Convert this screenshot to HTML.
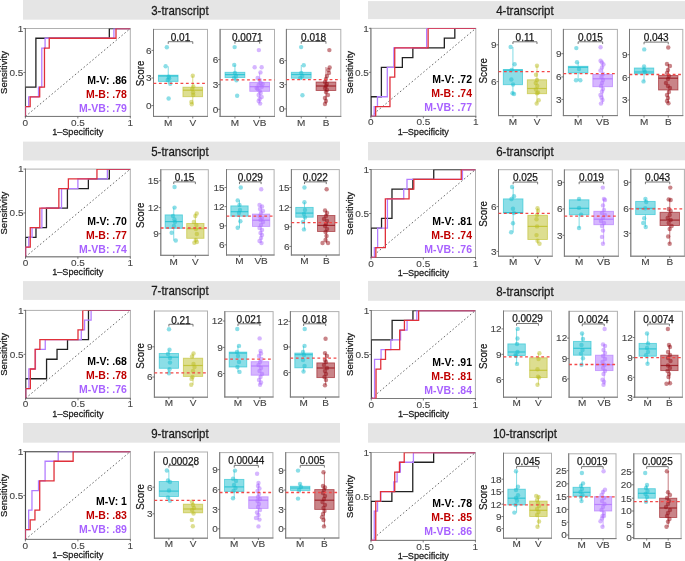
<!DOCTYPE html>
<html><head><meta charset="utf-8"><style>
html,body{margin:0;padding:0;background:#fff;}
svg{display:block;will-change:transform;}
text{font-family:"Liberation Sans", sans-serif;}
</style></head><body>
<svg width="685" height="561" viewBox="0 0 685 561">
<rect x="23.00" y="0.00" width="317.00" height="19.70" fill="#e5e5e5"/>
<text transform="translate(179.90 10.45) scale(0.95 1.0)" font-size="12.1" fill="#1a1a1a" text-anchor="middle" font-weight="normal" dominant-baseline="central" stroke="#1a1a1a" stroke-width="0.25">3-transcript</text>
<rect x="25.40" y="28.50" width="104.90" height="87.95" fill="none" stroke="#b0b0b0" stroke-width="1"/>
<line x1="25.40" y1="28.00" x2="25.40" y2="116.95" stroke="#7a7a7a" stroke-width="1"/>
<line x1="24.90" y1="116.45" x2="130.80" y2="116.45" stroke="#7a7a7a" stroke-width="1"/>
<line x1="25.40" y1="116.45" x2="130.30" y2="28.50" stroke="#444" stroke-width="0.8" stroke-dasharray="1.6,2.2"/>
<clipPath id="c1"><rect x="25.40" y="28.50" width="104.90" height="87.95"/></clipPath><g clip-path="url(#c1)">
<polyline points="25.40,116.45 25.40,87.13 35.89,87.13 35.89,38.27 109.32,38.27 109.32,28.50 130.30,28.50" fill="none" stroke="#222222" stroke-width="1.3"/>
<polyline points="25.40,116.45 25.40,106.68 28.68,106.68 28.68,96.91 38.51,96.91 38.51,87.13 41.79,87.13 41.79,48.04 45.07,48.04 45.07,38.27 113.91,38.27 113.91,28.50 130.30,28.50" fill="none" stroke="#b37dff" stroke-width="1.3"/>
<polyline points="25.40,116.45 25.40,106.68 30.17,106.68 30.17,96.91 39.70,96.91 39.70,87.13 44.47,87.13 44.47,48.04 49.24,48.04 49.24,38.27 116.00,38.27 116.00,28.50 130.30,28.50" fill="none" stroke="#e0303a" stroke-width="1.3"/>
</g>
<line x1="23.40" y1="28.50" x2="25.40" y2="28.50" stroke="#5a5a5a" stroke-width="0.8"/>
<text transform="translate(23.40 28.50) scale(1.0 0.92)" font-size="10.0" fill="#454545" text-anchor="end" font-weight="normal" dominant-baseline="central" stroke="#454545" stroke-width="0.12">1</text>
<line x1="23.40" y1="72.47" x2="25.40" y2="72.47" stroke="#5a5a5a" stroke-width="0.8"/>
<text transform="translate(23.40 72.47) scale(1.0 0.92)" font-size="10.0" fill="#454545" text-anchor="end" font-weight="normal" dominant-baseline="central" stroke="#454545" stroke-width="0.12">0.5</text>
<line x1="25.40" y1="116.45" x2="25.40" y2="118.45" stroke="#5a5a5a" stroke-width="0.8"/>
<text transform="translate(25.40 122.25) scale(1.0 0.92)" font-size="10.0" fill="#454545" text-anchor="middle" font-weight="normal" dominant-baseline="central" stroke="#454545" stroke-width="0.12">0</text>
<line x1="77.85" y1="116.45" x2="77.85" y2="118.45" stroke="#5a5a5a" stroke-width="0.8"/>
<text transform="translate(77.85 122.25) scale(1.0 0.92)" font-size="10.0" fill="#454545" text-anchor="middle" font-weight="normal" dominant-baseline="central" stroke="#454545" stroke-width="0.12">0.5</text>
<line x1="130.30" y1="116.45" x2="130.30" y2="118.45" stroke="#5a5a5a" stroke-width="0.8"/>
<text transform="translate(130.30 122.25) scale(1.0 0.92)" font-size="10.0" fill="#454545" text-anchor="middle" font-weight="normal" dominant-baseline="central" stroke="#454545" stroke-width="0.12">1</text>
<text transform="translate(3.50 72.50) rotate(-90)" font-size="9.5" fill="#1a1a1a" text-anchor="middle" font-weight="normal" dominant-baseline="central" stroke="#1a1a1a" stroke-width="0.25">Sensitivity</text>
<text transform="translate(77.70 131.75) scale(0.96 1.0)" font-size="9.5" fill="#1a1a1a" text-anchor="middle" font-weight="normal" dominant-baseline="central" stroke="#1a1a1a" stroke-width="0.25">1–Specificity</text>
<text transform="translate(126.90 80.80) scale(1.03 1.0)" font-size="10.2" fill="#000" text-anchor="end" font-weight="bold" dominant-baseline="central">M-V: .86</text>
<text transform="translate(126.90 94.80) scale(1.03 1.0)" font-size="10.2" fill="#c00000" text-anchor="end" font-weight="bold" dominant-baseline="central">M-B: .78</text>
<text transform="translate(126.90 108.80) scale(1.03 1.0)" font-size="10.2" fill="#a862ff" text-anchor="end" font-weight="bold" dominant-baseline="central">M-VB: .79</text>
<rect x="153.50" y="29.40" width="54.00" height="87.00" fill="none" stroke="#b0b0b0" stroke-width="1"/>
<line x1="153.50" y1="28.90" x2="153.50" y2="116.90" stroke="#7a7a7a" stroke-width="1"/>
<line x1="153.00" y1="116.40" x2="208.00" y2="116.40" stroke="#7a7a7a" stroke-width="1"/>
<line x1="151.50" y1="50.40" x2="153.50" y2="50.40" stroke="#5a5a5a" stroke-width="0.8"/>
<text transform="translate(151.60 50.40) scale(1.0 0.92)" font-size="10.0" fill="#454545" text-anchor="end" font-weight="normal" dominant-baseline="central" stroke="#454545" stroke-width="0.12">6</text>
<line x1="151.50" y1="78.00" x2="153.50" y2="78.00" stroke="#5a5a5a" stroke-width="0.8"/>
<text transform="translate(151.60 78.00) scale(1.0 0.92)" font-size="10.0" fill="#454545" text-anchor="end" font-weight="normal" dominant-baseline="central" stroke="#454545" stroke-width="0.12">3</text>
<line x1="151.50" y1="105.60" x2="153.50" y2="105.60" stroke="#5a5a5a" stroke-width="0.8"/>
<text transform="translate(151.60 105.60) scale(1.0 0.92)" font-size="10.0" fill="#454545" text-anchor="end" font-weight="normal" dominant-baseline="central" stroke="#454545" stroke-width="0.12">0</text>
<line x1="168.23" y1="116.40" x2="168.23" y2="118.40" stroke="#5a5a5a" stroke-width="0.8"/>
<text transform="translate(168.23 122.30) scale(1.0 0.92)" font-size="10.0" fill="#454545" text-anchor="middle" font-weight="normal" dominant-baseline="central" stroke="#454545" stroke-width="0.12">M</text>
<line x1="192.77" y1="116.40" x2="192.77" y2="118.40" stroke="#5a5a5a" stroke-width="0.8"/>
<text transform="translate(192.77 122.30) scale(1.0 0.92)" font-size="10.0" fill="#454545" text-anchor="middle" font-weight="normal" dominant-baseline="central" stroke="#454545" stroke-width="0.12">V</text>
<line x1="168.23" y1="66.30" x2="168.23" y2="75.20" stroke="#17becf" stroke-width="0.9" stroke-opacity="0.6"/>
<line x1="168.23" y1="81.40" x2="168.23" y2="83.70" stroke="#17becf" stroke-width="0.9" stroke-opacity="0.6"/>
<rect x="158.41" y="75.20" width="19.64" height="6.20" fill="#17becf" fill-opacity="0.5" stroke="#17becf" stroke-opacity="0.6" stroke-width="0.9"/>
<line x1="158.41" y1="76.00" x2="178.05" y2="76.00" stroke="#17becf" stroke-width="1.2" stroke-opacity="0.75"/>
<circle cx="166.83" cy="47.30" r="2.2" fill="#17becf" fill-opacity="0.5"/>
<circle cx="165.63" cy="66.30" r="2.2" fill="#17becf" fill-opacity="0.5"/>
<circle cx="168.73" cy="76.80" r="2.2" fill="#17becf" fill-opacity="0.5"/>
<circle cx="170.23" cy="83.70" r="2.2" fill="#17becf" fill-opacity="0.5"/>
<circle cx="168.63" cy="98.50" r="2.2" fill="#17becf" fill-opacity="0.5"/>
<circle cx="169.23" cy="78.50" r="2.2" fill="#17becf" fill-opacity="0.5"/>
<circle cx="167.73" cy="80.00" r="2.2" fill="#17becf" fill-opacity="0.5"/>
<line x1="192.77" y1="75.70" x2="192.77" y2="87.20" stroke="#bcbd22" stroke-width="0.9" stroke-opacity="0.6"/>
<line x1="192.77" y1="96.70" x2="192.77" y2="104.40" stroke="#bcbd22" stroke-width="0.9" stroke-opacity="0.6"/>
<rect x="182.95" y="87.20" width="19.64" height="9.50" fill="#bcbd22" fill-opacity="0.5" stroke="#bcbd22" stroke-opacity="0.6" stroke-width="0.9"/>
<line x1="182.95" y1="90.20" x2="202.59" y2="90.20" stroke="#bcbd22" stroke-width="1.2" stroke-opacity="0.75"/>
<circle cx="192.77" cy="75.70" r="2.2" fill="#bcbd22" fill-opacity="0.5"/>
<circle cx="193.27" cy="86.50" r="2.2" fill="#bcbd22" fill-opacity="0.5"/>
<circle cx="192.27" cy="89.00" r="2.2" fill="#bcbd22" fill-opacity="0.5"/>
<circle cx="193.07" cy="92.50" r="2.2" fill="#bcbd22" fill-opacity="0.5"/>
<circle cx="191.37" cy="102.00" r="2.2" fill="#bcbd22" fill-opacity="0.5"/>
<circle cx="191.77" cy="104.30" r="2.2" fill="#bcbd22" fill-opacity="0.5"/>
<circle cx="193.27" cy="95.00" r="2.2" fill="#bcbd22" fill-opacity="0.5"/>
<line x1="153.50" y1="83.40" x2="207.50" y2="83.40" stroke="#f44848" stroke-width="1.3" stroke-dasharray="2.8,2.6"/>
<polyline points="168.23,43.90 168.23,41.70 192.77,41.70 192.77,43.90" fill="none" stroke="#666" stroke-width="0.9"/>
<text transform="translate(180.50 37.40)" font-size="10.0" fill="#1a1a1a" text-anchor="middle" font-weight="normal" dominant-baseline="central" stroke="#1a1a1a" stroke-width="0.25">0.01</text>
<text transform="translate(140.20 73.40) rotate(-90) scale(0.95 1.0)" font-size="10.3" fill="#1a1a1a" text-anchor="middle" font-weight="normal" dominant-baseline="central" stroke="#1a1a1a" stroke-width="0.25">Score</text>
<rect x="220.10" y="29.40" width="54.40" height="87.00" fill="none" stroke="#b0b0b0" stroke-width="1"/>
<line x1="220.10" y1="28.90" x2="220.10" y2="116.90" stroke="#7a7a7a" stroke-width="1"/>
<line x1="219.60" y1="116.40" x2="275.00" y2="116.40" stroke="#7a7a7a" stroke-width="1"/>
<line x1="218.10" y1="59.60" x2="220.10" y2="59.60" stroke="#5a5a5a" stroke-width="0.8"/>
<text transform="translate(218.20 59.60) scale(1.0 0.92)" font-size="10.0" fill="#454545" text-anchor="end" font-weight="normal" dominant-baseline="central" stroke="#454545" stroke-width="0.12">6</text>
<line x1="218.10" y1="84.60" x2="220.10" y2="84.60" stroke="#5a5a5a" stroke-width="0.8"/>
<text transform="translate(218.20 84.60) scale(1.0 0.92)" font-size="10.0" fill="#454545" text-anchor="end" font-weight="normal" dominant-baseline="central" stroke="#454545" stroke-width="0.12">3</text>
<line x1="218.10" y1="109.30" x2="220.10" y2="109.30" stroke="#5a5a5a" stroke-width="0.8"/>
<text transform="translate(218.20 109.30) scale(1.0 0.92)" font-size="10.0" fill="#454545" text-anchor="end" font-weight="normal" dominant-baseline="central" stroke="#454545" stroke-width="0.12">0</text>
<line x1="234.94" y1="116.40" x2="234.94" y2="118.40" stroke="#5a5a5a" stroke-width="0.8"/>
<text transform="translate(234.94 122.30) scale(1.0 0.92)" font-size="10.0" fill="#454545" text-anchor="middle" font-weight="normal" dominant-baseline="central" stroke="#454545" stroke-width="0.12">M</text>
<line x1="259.66" y1="116.40" x2="259.66" y2="118.40" stroke="#5a5a5a" stroke-width="0.8"/>
<text transform="translate(259.66 122.30) scale(1.0 0.92)" font-size="10.0" fill="#454545" text-anchor="middle" font-weight="normal" dominant-baseline="central" stroke="#454545" stroke-width="0.12">VB</text>
<line x1="234.94" y1="64.90" x2="234.94" y2="72.30" stroke="#17becf" stroke-width="0.9" stroke-opacity="0.6"/>
<line x1="234.94" y1="77.60" x2="234.94" y2="80.30" stroke="#17becf" stroke-width="0.9" stroke-opacity="0.6"/>
<rect x="225.05" y="72.30" width="19.78" height="5.30" fill="#17becf" fill-opacity="0.5" stroke="#17becf" stroke-opacity="0.6" stroke-width="0.9"/>
<line x1="225.05" y1="74.60" x2="244.83" y2="74.60" stroke="#17becf" stroke-width="1.2" stroke-opacity="0.75"/>
<circle cx="234.64" cy="47.10" r="2.2" fill="#17becf" fill-opacity="0.5"/>
<circle cx="234.24" cy="64.90" r="2.2" fill="#17becf" fill-opacity="0.5"/>
<circle cx="237.14" cy="95.80" r="2.2" fill="#17becf" fill-opacity="0.5"/>
<circle cx="234.94" cy="73.00" r="2.2" fill="#17becf" fill-opacity="0.5"/>
<circle cx="235.94" cy="76.00" r="2.2" fill="#17becf" fill-opacity="0.5"/>
<circle cx="233.94" cy="78.00" r="2.2" fill="#17becf" fill-opacity="0.5"/>
<circle cx="236.44" cy="80.30" r="2.2" fill="#17becf" fill-opacity="0.5"/>
<line x1="259.66" y1="72.50" x2="259.66" y2="82.40" stroke="#ad6eff" stroke-width="0.9" stroke-opacity="0.6"/>
<line x1="259.66" y1="91.30" x2="259.66" y2="103.60" stroke="#ad6eff" stroke-width="0.9" stroke-opacity="0.6"/>
<rect x="249.77" y="82.40" width="19.78" height="8.90" fill="#ad6eff" fill-opacity="0.5" stroke="#ad6eff" stroke-opacity="0.6" stroke-width="0.9"/>
<line x1="249.77" y1="86.70" x2="269.55" y2="86.70" stroke="#ad6eff" stroke-width="1.2" stroke-opacity="0.75"/>
<circle cx="258.86" cy="50.10" r="2.2" fill="#ad6eff" fill-opacity="0.5"/>
<circle cx="254.66" cy="67.30" r="2.2" fill="#ad6eff" fill-opacity="0.5"/>
<circle cx="261.66" cy="67.30" r="2.2" fill="#ad6eff" fill-opacity="0.5"/>
<circle cx="260.46" cy="72.40" r="2.2" fill="#ad6eff" fill-opacity="0.5"/>
<circle cx="257.66" cy="78.00" r="2.2" fill="#ad6eff" fill-opacity="0.5"/>
<circle cx="259.66" cy="80.00" r="2.2" fill="#ad6eff" fill-opacity="0.5"/>
<circle cx="260.66" cy="83.00" r="2.2" fill="#ad6eff" fill-opacity="0.5"/>
<circle cx="258.66" cy="85.00" r="2.2" fill="#ad6eff" fill-opacity="0.5"/>
<circle cx="261.66" cy="87.00" r="2.2" fill="#ad6eff" fill-opacity="0.5"/>
<circle cx="257.66" cy="89.00" r="2.2" fill="#ad6eff" fill-opacity="0.5"/>
<circle cx="259.66" cy="91.00" r="2.2" fill="#ad6eff" fill-opacity="0.5"/>
<circle cx="260.66" cy="93.00" r="2.2" fill="#ad6eff" fill-opacity="0.5"/>
<circle cx="258.66" cy="95.00" r="2.2" fill="#ad6eff" fill-opacity="0.5"/>
<circle cx="261.66" cy="97.00" r="2.2" fill="#ad6eff" fill-opacity="0.5"/>
<circle cx="259.66" cy="99.00" r="2.2" fill="#ad6eff" fill-opacity="0.5"/>
<circle cx="258.66" cy="101.00" r="2.2" fill="#ad6eff" fill-opacity="0.5"/>
<circle cx="260.16" cy="103.60" r="2.2" fill="#ad6eff" fill-opacity="0.5"/>
<circle cx="262.66" cy="84.00" r="2.2" fill="#ad6eff" fill-opacity="0.5"/>
<circle cx="256.66" cy="88.00" r="2.2" fill="#ad6eff" fill-opacity="0.5"/>
<line x1="220.10" y1="79.90" x2="274.50" y2="79.90" stroke="#f44848" stroke-width="1.3" stroke-dasharray="2.8,2.6"/>
<polyline points="234.94,43.70 234.94,41.50 259.66,41.50 259.66,43.70" fill="none" stroke="#666" stroke-width="0.9"/>
<text transform="translate(247.30 37.10)" font-size="10.0" fill="#1a1a1a" text-anchor="middle" font-weight="normal" dominant-baseline="central" stroke="#1a1a1a" stroke-width="0.25">0.0071</text>
<rect x="286.40" y="29.40" width="54.40" height="87.00" fill="none" stroke="#b0b0b0" stroke-width="1"/>
<line x1="286.40" y1="28.90" x2="286.40" y2="116.90" stroke="#7a7a7a" stroke-width="1"/>
<line x1="285.90" y1="116.40" x2="341.30" y2="116.40" stroke="#7a7a7a" stroke-width="1"/>
<line x1="284.40" y1="60.60" x2="286.40" y2="60.60" stroke="#5a5a5a" stroke-width="0.8"/>
<text transform="translate(284.50 60.60) scale(1.0 0.92)" font-size="10.0" fill="#454545" text-anchor="end" font-weight="normal" dominant-baseline="central" stroke="#454545" stroke-width="0.12">6</text>
<line x1="284.40" y1="84.60" x2="286.40" y2="84.60" stroke="#5a5a5a" stroke-width="0.8"/>
<text transform="translate(284.50 84.60) scale(1.0 0.92)" font-size="10.0" fill="#454545" text-anchor="end" font-weight="normal" dominant-baseline="central" stroke="#454545" stroke-width="0.12">3</text>
<line x1="284.40" y1="108.90" x2="286.40" y2="108.90" stroke="#5a5a5a" stroke-width="0.8"/>
<text transform="translate(284.50 108.90) scale(1.0 0.92)" font-size="10.0" fill="#454545" text-anchor="end" font-weight="normal" dominant-baseline="central" stroke="#454545" stroke-width="0.12">0</text>
<line x1="301.24" y1="116.40" x2="301.24" y2="118.40" stroke="#5a5a5a" stroke-width="0.8"/>
<text transform="translate(301.24 122.30) scale(1.0 0.92)" font-size="10.0" fill="#454545" text-anchor="middle" font-weight="normal" dominant-baseline="central" stroke="#454545" stroke-width="0.12">M</text>
<line x1="325.96" y1="116.40" x2="325.96" y2="118.40" stroke="#5a5a5a" stroke-width="0.8"/>
<text transform="translate(325.96 122.30) scale(1.0 0.92)" font-size="10.0" fill="#454545" text-anchor="middle" font-weight="normal" dominant-baseline="central" stroke="#454545" stroke-width="0.12">B</text>
<line x1="301.24" y1="65.10" x2="301.24" y2="72.30" stroke="#17becf" stroke-width="0.9" stroke-opacity="0.6"/>
<line x1="301.24" y1="78.20" x2="301.24" y2="80.00" stroke="#17becf" stroke-width="0.9" stroke-opacity="0.6"/>
<rect x="291.35" y="72.30" width="19.78" height="5.90" fill="#17becf" fill-opacity="0.5" stroke="#17becf" stroke-opacity="0.6" stroke-width="0.9"/>
<line x1="291.35" y1="74.50" x2="311.13" y2="74.50" stroke="#17becf" stroke-width="1.2" stroke-opacity="0.75"/>
<circle cx="301.14" cy="47.10" r="2.2" fill="#17becf" fill-opacity="0.5"/>
<circle cx="303.74" cy="65.20" r="2.2" fill="#17becf" fill-opacity="0.5"/>
<circle cx="302.44" cy="95.30" r="2.2" fill="#17becf" fill-opacity="0.5"/>
<circle cx="301.24" cy="73.00" r="2.2" fill="#17becf" fill-opacity="0.5"/>
<circle cx="302.24" cy="76.00" r="2.2" fill="#17becf" fill-opacity="0.5"/>
<circle cx="300.24" cy="78.00" r="2.2" fill="#17becf" fill-opacity="0.5"/>
<line x1="325.96" y1="67.00" x2="325.96" y2="82.00" stroke="#940a12" stroke-width="0.9" stroke-opacity="0.6"/>
<line x1="325.96" y1="90.50" x2="325.96" y2="104.00" stroke="#940a12" stroke-width="0.9" stroke-opacity="0.6"/>
<rect x="316.07" y="82.00" width="19.78" height="8.50" fill="#940a12" fill-opacity="0.5" stroke="#940a12" stroke-opacity="0.6" stroke-width="0.9"/>
<line x1="316.07" y1="86.00" x2="335.85" y2="86.00" stroke="#940a12" stroke-width="1.2" stroke-opacity="0.75"/>
<circle cx="329.36" cy="50.10" r="2.2" fill="#940a12" fill-opacity="0.5"/>
<circle cx="329.66" cy="67.50" r="2.2" fill="#940a12" fill-opacity="0.5"/>
<circle cx="328.46" cy="70.00" r="2.2" fill="#940a12" fill-opacity="0.5"/>
<circle cx="328.96" cy="73.00" r="2.2" fill="#940a12" fill-opacity="0.5"/>
<circle cx="326.96" cy="76.00" r="2.2" fill="#940a12" fill-opacity="0.5"/>
<circle cx="325.96" cy="79.00" r="2.2" fill="#940a12" fill-opacity="0.5"/>
<circle cx="324.96" cy="82.00" r="2.2" fill="#940a12" fill-opacity="0.5"/>
<circle cx="326.96" cy="84.00" r="2.2" fill="#940a12" fill-opacity="0.5"/>
<circle cx="325.96" cy="86.00" r="2.2" fill="#940a12" fill-opacity="0.5"/>
<circle cx="324.96" cy="88.00" r="2.2" fill="#940a12" fill-opacity="0.5"/>
<circle cx="326.96" cy="90.00" r="2.2" fill="#940a12" fill-opacity="0.5"/>
<circle cx="325.96" cy="92.00" r="2.2" fill="#940a12" fill-opacity="0.5"/>
<circle cx="327.96" cy="95.00" r="2.2" fill="#940a12" fill-opacity="0.5"/>
<circle cx="324.96" cy="98.00" r="2.2" fill="#940a12" fill-opacity="0.5"/>
<circle cx="325.96" cy="101.00" r="2.2" fill="#940a12" fill-opacity="0.5"/>
<circle cx="324.96" cy="104.00" r="2.2" fill="#940a12" fill-opacity="0.5"/>
<line x1="286.40" y1="79.70" x2="340.80" y2="79.70" stroke="#f44848" stroke-width="1.3" stroke-dasharray="2.8,2.6"/>
<polyline points="301.24,43.70 301.24,41.50 325.96,41.50 325.96,43.70" fill="none" stroke="#666" stroke-width="0.9"/>
<text transform="translate(313.60 37.10)" font-size="10.0" fill="#1a1a1a" text-anchor="middle" font-weight="normal" dominant-baseline="central" stroke="#1a1a1a" stroke-width="0.25">0.018</text>
<rect x="368.00" y="1.10" width="317.00" height="18.00" fill="#e5e5e5"/>
<text transform="translate(524.90 10.70) scale(0.95 1.0)" font-size="12.1" fill="#1a1a1a" text-anchor="middle" font-weight="normal" dominant-baseline="central" stroke="#1a1a1a" stroke-width="0.25">4-transcript</text>
<rect x="370.90" y="28.35" width="104.90" height="87.95" fill="none" stroke="#b0b0b0" stroke-width="1"/>
<line x1="370.90" y1="27.85" x2="370.90" y2="116.80" stroke="#7a7a7a" stroke-width="1"/>
<line x1="370.40" y1="116.30" x2="476.30" y2="116.30" stroke="#7a7a7a" stroke-width="1"/>
<line x1="370.90" y1="116.30" x2="475.80" y2="28.35" stroke="#444" stroke-width="0.8" stroke-dasharray="1.6,2.2"/>
<clipPath id="c2"><rect x="370.90" y="28.35" width="104.90" height="87.95"/></clipPath><g clip-path="url(#c2)">
<polyline points="370.90,116.30 370.90,96.76 381.39,96.76 381.39,67.44 402.37,67.44 402.37,57.67 412.86,57.67 412.86,47.89 444.33,47.89 444.33,38.12 454.82,38.12 454.82,28.35 475.80,28.35" fill="none" stroke="#222222" stroke-width="1.3"/>
<polyline points="370.90,116.30 374.18,116.30 374.18,106.53 377.46,106.53 377.46,96.76 387.29,96.76 387.29,67.44 393.85,67.44 393.85,47.89 426.63,47.89 426.63,28.35 475.80,28.35" fill="none" stroke="#b37dff" stroke-width="1.3"/>
<polyline points="370.90,116.30 375.67,116.30 375.67,106.53 389.97,106.53 389.97,77.21 394.74,77.21 394.74,47.89 428.12,47.89 428.12,28.35 475.80,28.35" fill="none" stroke="#e0303a" stroke-width="1.3"/>
</g>
<line x1="368.90" y1="28.35" x2="370.90" y2="28.35" stroke="#5a5a5a" stroke-width="0.8"/>
<text transform="translate(368.90 28.35) scale(1.0 0.92)" font-size="10.0" fill="#454545" text-anchor="end" font-weight="normal" dominant-baseline="central" stroke="#454545" stroke-width="0.12">1</text>
<line x1="368.90" y1="72.33" x2="370.90" y2="72.33" stroke="#5a5a5a" stroke-width="0.8"/>
<text transform="translate(368.90 72.33) scale(1.0 0.92)" font-size="10.0" fill="#454545" text-anchor="end" font-weight="normal" dominant-baseline="central" stroke="#454545" stroke-width="0.12">0.5</text>
<line x1="370.90" y1="116.30" x2="370.90" y2="118.30" stroke="#5a5a5a" stroke-width="0.8"/>
<text transform="translate(370.90 122.10) scale(1.0 0.92)" font-size="10.0" fill="#454545" text-anchor="middle" font-weight="normal" dominant-baseline="central" stroke="#454545" stroke-width="0.12">0</text>
<line x1="423.35" y1="116.30" x2="423.35" y2="118.30" stroke="#5a5a5a" stroke-width="0.8"/>
<text transform="translate(423.35 122.10) scale(1.0 0.92)" font-size="10.0" fill="#454545" text-anchor="middle" font-weight="normal" dominant-baseline="central" stroke="#454545" stroke-width="0.12">0.5</text>
<line x1="475.80" y1="116.30" x2="475.80" y2="118.30" stroke="#5a5a5a" stroke-width="0.8"/>
<text transform="translate(475.80 122.10) scale(1.0 0.92)" font-size="10.0" fill="#454545" text-anchor="middle" font-weight="normal" dominant-baseline="central" stroke="#454545" stroke-width="0.12">1</text>
<text transform="translate(349.00 72.35) rotate(-90)" font-size="9.5" fill="#1a1a1a" text-anchor="middle" font-weight="normal" dominant-baseline="central" stroke="#1a1a1a" stroke-width="0.25">Sensitivity</text>
<text transform="translate(423.20 131.60) scale(0.96 1.0)" font-size="9.5" fill="#1a1a1a" text-anchor="middle" font-weight="normal" dominant-baseline="central" stroke="#1a1a1a" stroke-width="0.25">1–Specificity</text>
<text transform="translate(472.00 79.90) scale(1.03 1.0)" font-size="10.2" fill="#000" text-anchor="end" font-weight="bold" dominant-baseline="central">M-V: .72</text>
<text transform="translate(472.00 93.90) scale(1.03 1.0)" font-size="10.2" fill="#c00000" text-anchor="end" font-weight="bold" dominant-baseline="central">M-B: .74</text>
<text transform="translate(472.00 107.90) scale(1.03 1.0)" font-size="10.2" fill="#a862ff" text-anchor="end" font-weight="bold" dominant-baseline="central">M-VB: .77</text>
<rect x="498.50" y="29.40" width="52.90" height="86.20" fill="none" stroke="#b0b0b0" stroke-width="1"/>
<line x1="498.50" y1="28.90" x2="498.50" y2="116.10" stroke="#7a7a7a" stroke-width="1"/>
<line x1="498.00" y1="115.60" x2="551.90" y2="115.60" stroke="#7a7a7a" stroke-width="1"/>
<line x1="496.50" y1="44.80" x2="498.50" y2="44.80" stroke="#5a5a5a" stroke-width="0.8"/>
<text transform="translate(496.60 44.80) scale(1.0 0.92)" font-size="10.0" fill="#454545" text-anchor="end" font-weight="normal" dominant-baseline="central" stroke="#454545" stroke-width="0.12">9</text>
<line x1="496.50" y1="81.60" x2="498.50" y2="81.60" stroke="#5a5a5a" stroke-width="0.8"/>
<text transform="translate(496.60 81.60) scale(1.0 0.92)" font-size="10.0" fill="#454545" text-anchor="end" font-weight="normal" dominant-baseline="central" stroke="#454545" stroke-width="0.12">6</text>
<line x1="512.93" y1="115.60" x2="512.93" y2="117.60" stroke="#5a5a5a" stroke-width="0.8"/>
<text transform="translate(512.93 121.50) scale(1.0 0.92)" font-size="10.0" fill="#454545" text-anchor="middle" font-weight="normal" dominant-baseline="central" stroke="#454545" stroke-width="0.12">M</text>
<line x1="536.97" y1="115.60" x2="536.97" y2="117.60" stroke="#5a5a5a" stroke-width="0.8"/>
<text transform="translate(536.97 121.50) scale(1.0 0.92)" font-size="10.0" fill="#454545" text-anchor="middle" font-weight="normal" dominant-baseline="central" stroke="#454545" stroke-width="0.12">V</text>
<line x1="512.93" y1="47.00" x2="512.93" y2="69.50" stroke="#17becf" stroke-width="0.9" stroke-opacity="0.6"/>
<line x1="512.93" y1="84.70" x2="512.93" y2="94.00" stroke="#17becf" stroke-width="0.9" stroke-opacity="0.6"/>
<rect x="503.31" y="69.50" width="19.24" height="15.20" fill="#17becf" fill-opacity="0.5" stroke="#17becf" stroke-opacity="0.6" stroke-width="0.9"/>
<line x1="503.31" y1="70.30" x2="522.55" y2="70.30" stroke="#17becf" stroke-width="1.2" stroke-opacity="0.75"/>
<circle cx="510.63" cy="47.00" r="2.2" fill="#17becf" fill-opacity="0.5"/>
<circle cx="514.63" cy="64.30" r="2.2" fill="#17becf" fill-opacity="0.5"/>
<circle cx="511.63" cy="70.00" r="2.2" fill="#17becf" fill-opacity="0.5"/>
<circle cx="511.33" cy="79.50" r="2.2" fill="#17becf" fill-opacity="0.5"/>
<circle cx="513.03" cy="84.50" r="2.2" fill="#17becf" fill-opacity="0.5"/>
<circle cx="512.53" cy="93.30" r="2.2" fill="#17becf" fill-opacity="0.5"/>
<circle cx="514.03" cy="94.00" r="2.2" fill="#17becf" fill-opacity="0.5"/>
<line x1="536.97" y1="65.70" x2="536.97" y2="79.80" stroke="#bcbd22" stroke-width="0.9" stroke-opacity="0.6"/>
<line x1="536.97" y1="93.70" x2="536.97" y2="103.50" stroke="#bcbd22" stroke-width="0.9" stroke-opacity="0.6"/>
<rect x="527.35" y="79.80" width="19.24" height="13.90" fill="#bcbd22" fill-opacity="0.5" stroke="#bcbd22" stroke-opacity="0.6" stroke-width="0.9"/>
<line x1="527.35" y1="88.50" x2="546.59" y2="88.50" stroke="#bcbd22" stroke-width="1.2" stroke-opacity="0.75"/>
<circle cx="536.97" cy="65.70" r="2.2" fill="#bcbd22" fill-opacity="0.5"/>
<circle cx="535.97" cy="74.70" r="2.2" fill="#bcbd22" fill-opacity="0.5"/>
<circle cx="536.97" cy="80.00" r="2.2" fill="#bcbd22" fill-opacity="0.5"/>
<circle cx="535.77" cy="83.00" r="2.2" fill="#bcbd22" fill-opacity="0.5"/>
<circle cx="537.27" cy="86.00" r="2.2" fill="#bcbd22" fill-opacity="0.5"/>
<circle cx="535.97" cy="89.50" r="2.2" fill="#bcbd22" fill-opacity="0.5"/>
<circle cx="537.97" cy="92.50" r="2.2" fill="#bcbd22" fill-opacity="0.5"/>
<circle cx="536.97" cy="93.30" r="2.2" fill="#bcbd22" fill-opacity="0.5"/>
<circle cx="538.67" cy="100.20" r="2.2" fill="#bcbd22" fill-opacity="0.5"/>
<circle cx="536.67" cy="103.50" r="2.2" fill="#bcbd22" fill-opacity="0.5"/>
<line x1="498.50" y1="71.70" x2="551.40" y2="71.70" stroke="#f44848" stroke-width="1.3" stroke-dasharray="2.8,2.6"/>
<polyline points="512.93,44.00 512.93,41.80 536.97,41.80 536.97,44.00" fill="none" stroke="#666" stroke-width="0.9"/>
<text transform="translate(524.95 37.50)" font-size="10.0" fill="#1a1a1a" text-anchor="middle" font-weight="normal" dominant-baseline="central" stroke="#1a1a1a" stroke-width="0.25">0.11</text>
<text transform="translate(483.80 70.70) rotate(-90) scale(0.95 1.0)" font-size="10.3" fill="#1a1a1a" text-anchor="middle" font-weight="normal" dominant-baseline="central" stroke="#1a1a1a" stroke-width="0.25">Score</text>
<rect x="563.40" y="29.40" width="54.00" height="86.20" fill="none" stroke="#b0b0b0" stroke-width="1"/>
<line x1="563.40" y1="28.90" x2="563.40" y2="116.10" stroke="#7a7a7a" stroke-width="1"/>
<line x1="562.90" y1="115.60" x2="617.90" y2="115.60" stroke="#7a7a7a" stroke-width="1"/>
<line x1="561.40" y1="53.70" x2="563.40" y2="53.70" stroke="#5a5a5a" stroke-width="0.8"/>
<text transform="translate(561.50 53.70) scale(1.0 0.92)" font-size="10.0" fill="#454545" text-anchor="end" font-weight="normal" dominant-baseline="central" stroke="#454545" stroke-width="0.12">9</text>
<line x1="561.40" y1="76.90" x2="563.40" y2="76.90" stroke="#5a5a5a" stroke-width="0.8"/>
<text transform="translate(561.50 76.90) scale(1.0 0.92)" font-size="10.0" fill="#454545" text-anchor="end" font-weight="normal" dominant-baseline="central" stroke="#454545" stroke-width="0.12">6</text>
<line x1="561.40" y1="99.40" x2="563.40" y2="99.40" stroke="#5a5a5a" stroke-width="0.8"/>
<text transform="translate(561.50 99.40) scale(1.0 0.92)" font-size="10.0" fill="#454545" text-anchor="end" font-weight="normal" dominant-baseline="central" stroke="#454545" stroke-width="0.12">3</text>
<line x1="578.13" y1="115.60" x2="578.13" y2="117.60" stroke="#5a5a5a" stroke-width="0.8"/>
<text transform="translate(578.13 121.50) scale(1.0 0.92)" font-size="10.0" fill="#454545" text-anchor="middle" font-weight="normal" dominant-baseline="central" stroke="#454545" stroke-width="0.12">M</text>
<line x1="602.67" y1="115.60" x2="602.67" y2="117.60" stroke="#5a5a5a" stroke-width="0.8"/>
<text transform="translate(602.67 121.50) scale(1.0 0.92)" font-size="10.0" fill="#454545" text-anchor="middle" font-weight="normal" dominant-baseline="central" stroke="#454545" stroke-width="0.12">VB</text>
<line x1="578.13" y1="62.20" x2="578.13" y2="66.30" stroke="#17becf" stroke-width="0.9" stroke-opacity="0.6"/>
<line x1="578.13" y1="72.90" x2="578.13" y2="80.30" stroke="#17becf" stroke-width="0.9" stroke-opacity="0.6"/>
<rect x="568.31" y="66.30" width="19.64" height="6.60" fill="#17becf" fill-opacity="0.5" stroke="#17becf" stroke-opacity="0.6" stroke-width="0.9"/>
<line x1="568.31" y1="67.30" x2="587.95" y2="67.30" stroke="#17becf" stroke-width="1.2" stroke-opacity="0.75"/>
<circle cx="576.33" cy="48.10" r="2.2" fill="#17becf" fill-opacity="0.5"/>
<circle cx="577.03" cy="62.20" r="2.2" fill="#17becf" fill-opacity="0.5"/>
<circle cx="579.03" cy="69.00" r="2.2" fill="#17becf" fill-opacity="0.5"/>
<circle cx="576.03" cy="80.30" r="2.2" fill="#17becf" fill-opacity="0.5"/>
<circle cx="580.33" cy="80.30" r="2.2" fill="#17becf" fill-opacity="0.5"/>
<line x1="602.67" y1="60.70" x2="602.67" y2="74.50" stroke="#ad6eff" stroke-width="0.9" stroke-opacity="0.6"/>
<line x1="602.67" y1="86.70" x2="602.67" y2="103.60" stroke="#ad6eff" stroke-width="0.9" stroke-opacity="0.6"/>
<rect x="592.85" y="74.50" width="19.64" height="12.20" fill="#ad6eff" fill-opacity="0.5" stroke="#ad6eff" stroke-opacity="0.6" stroke-width="0.9"/>
<line x1="592.85" y1="78.80" x2="612.49" y2="78.80" stroke="#ad6eff" stroke-width="1.2" stroke-opacity="0.75"/>
<circle cx="600.57" cy="47.20" r="2.2" fill="#ad6eff" fill-opacity="0.5"/>
<circle cx="600.57" cy="60.70" r="2.2" fill="#ad6eff" fill-opacity="0.5"/>
<circle cx="601.87" cy="62.50" r="2.2" fill="#ad6eff" fill-opacity="0.5"/>
<circle cx="603.47" cy="64.50" r="2.2" fill="#ad6eff" fill-opacity="0.5"/>
<circle cx="601.97" cy="67.50" r="2.2" fill="#ad6eff" fill-opacity="0.5"/>
<circle cx="600.47" cy="70.50" r="2.2" fill="#ad6eff" fill-opacity="0.5"/>
<circle cx="602.97" cy="74.00" r="2.2" fill="#ad6eff" fill-opacity="0.5"/>
<circle cx="601.47" cy="77.00" r="2.2" fill="#ad6eff" fill-opacity="0.5"/>
<circle cx="602.97" cy="80.00" r="2.2" fill="#ad6eff" fill-opacity="0.5"/>
<circle cx="601.97" cy="83.00" r="2.2" fill="#ad6eff" fill-opacity="0.5"/>
<circle cx="600.97" cy="86.00" r="2.2" fill="#ad6eff" fill-opacity="0.5"/>
<circle cx="602.97" cy="89.00" r="2.2" fill="#ad6eff" fill-opacity="0.5"/>
<circle cx="601.97" cy="91.50" r="2.2" fill="#ad6eff" fill-opacity="0.5"/>
<circle cx="600.47" cy="95.00" r="2.2" fill="#ad6eff" fill-opacity="0.5"/>
<circle cx="601.47" cy="97.50" r="2.2" fill="#ad6eff" fill-opacity="0.5"/>
<circle cx="602.47" cy="100.00" r="2.2" fill="#ad6eff" fill-opacity="0.5"/>
<circle cx="600.97" cy="103.60" r="2.2" fill="#ad6eff" fill-opacity="0.5"/>
<line x1="563.40" y1="73.70" x2="617.40" y2="73.70" stroke="#f44848" stroke-width="1.3" stroke-dasharray="2.8,2.6"/>
<polyline points="578.13,44.00 578.13,41.80 602.67,41.80 602.67,44.00" fill="none" stroke="#666" stroke-width="0.9"/>
<text transform="translate(590.40 37.50)" font-size="10.0" fill="#1a1a1a" text-anchor="middle" font-weight="normal" dominant-baseline="central" stroke="#1a1a1a" stroke-width="0.25">0.015</text>
<rect x="629.50" y="29.40" width="53.30" height="86.20" fill="none" stroke="#b0b0b0" stroke-width="1"/>
<line x1="629.50" y1="28.90" x2="629.50" y2="116.10" stroke="#7a7a7a" stroke-width="1"/>
<line x1="629.00" y1="115.60" x2="683.30" y2="115.60" stroke="#7a7a7a" stroke-width="1"/>
<line x1="627.50" y1="54.70" x2="629.50" y2="54.70" stroke="#5a5a5a" stroke-width="0.8"/>
<text transform="translate(627.60 54.70) scale(1.0 0.92)" font-size="10.0" fill="#454545" text-anchor="end" font-weight="normal" dominant-baseline="central" stroke="#454545" stroke-width="0.12">9</text>
<line x1="627.50" y1="77.50" x2="629.50" y2="77.50" stroke="#5a5a5a" stroke-width="0.8"/>
<text transform="translate(627.60 77.50) scale(1.0 0.92)" font-size="10.0" fill="#454545" text-anchor="end" font-weight="normal" dominant-baseline="central" stroke="#454545" stroke-width="0.12">6</text>
<line x1="627.50" y1="100.00" x2="629.50" y2="100.00" stroke="#5a5a5a" stroke-width="0.8"/>
<text transform="translate(627.60 100.00) scale(1.0 0.92)" font-size="10.0" fill="#454545" text-anchor="end" font-weight="normal" dominant-baseline="central" stroke="#454545" stroke-width="0.12">3</text>
<line x1="644.04" y1="115.60" x2="644.04" y2="117.60" stroke="#5a5a5a" stroke-width="0.8"/>
<text transform="translate(644.04 121.50) scale(1.0 0.92)" font-size="10.0" fill="#454545" text-anchor="middle" font-weight="normal" dominant-baseline="central" stroke="#454545" stroke-width="0.12">M</text>
<line x1="668.26" y1="115.60" x2="668.26" y2="117.60" stroke="#5a5a5a" stroke-width="0.8"/>
<text transform="translate(668.26 121.50) scale(1.0 0.92)" font-size="10.0" fill="#454545" text-anchor="middle" font-weight="normal" dominant-baseline="central" stroke="#454545" stroke-width="0.12">B</text>
<line x1="644.04" y1="66.50" x2="644.04" y2="68.00" stroke="#17becf" stroke-width="0.9" stroke-opacity="0.6"/>
<line x1="644.04" y1="73.90" x2="644.04" y2="81.40" stroke="#17becf" stroke-width="0.9" stroke-opacity="0.6"/>
<rect x="634.35" y="68.00" width="19.38" height="5.90" fill="#17becf" fill-opacity="0.5" stroke="#17becf" stroke-opacity="0.6" stroke-width="0.9"/>
<line x1="634.35" y1="72.00" x2="653.73" y2="72.00" stroke="#17becf" stroke-width="1.2" stroke-opacity="0.75"/>
<circle cx="644.24" cy="49.40" r="2.2" fill="#17becf" fill-opacity="0.5"/>
<circle cx="644.04" cy="66.50" r="2.2" fill="#17becf" fill-opacity="0.5"/>
<circle cx="643.54" cy="81.40" r="2.2" fill="#17becf" fill-opacity="0.5"/>
<circle cx="644.04" cy="70.00" r="2.2" fill="#17becf" fill-opacity="0.5"/>
<circle cx="645.04" cy="72.00" r="2.2" fill="#17becf" fill-opacity="0.5"/>
<line x1="668.26" y1="64.10" x2="668.26" y2="75.50" stroke="#940a12" stroke-width="0.9" stroke-opacity="0.6"/>
<line x1="668.26" y1="90.00" x2="668.26" y2="103.30" stroke="#940a12" stroke-width="0.9" stroke-opacity="0.6"/>
<rect x="658.57" y="75.50" width="19.38" height="14.50" fill="#940a12" fill-opacity="0.5" stroke="#940a12" stroke-opacity="0.6" stroke-width="0.9"/>
<line x1="658.57" y1="78.20" x2="677.95" y2="78.20" stroke="#940a12" stroke-width="1.2" stroke-opacity="0.75"/>
<circle cx="668.26" cy="47.50" r="2.2" fill="#940a12" fill-opacity="0.5"/>
<circle cx="666.96" cy="64.00" r="2.2" fill="#940a12" fill-opacity="0.5"/>
<circle cx="669.96" cy="66.00" r="2.2" fill="#940a12" fill-opacity="0.5"/>
<circle cx="667.96" cy="70.00" r="2.2" fill="#940a12" fill-opacity="0.5"/>
<circle cx="666.96" cy="73.00" r="2.2" fill="#940a12" fill-opacity="0.5"/>
<circle cx="668.96" cy="76.00" r="2.2" fill="#940a12" fill-opacity="0.5"/>
<circle cx="667.96" cy="79.00" r="2.2" fill="#940a12" fill-opacity="0.5"/>
<circle cx="665.96" cy="83.00" r="2.2" fill="#940a12" fill-opacity="0.5"/>
<circle cx="667.96" cy="86.00" r="2.2" fill="#940a12" fill-opacity="0.5"/>
<circle cx="669.96" cy="88.00" r="2.2" fill="#940a12" fill-opacity="0.5"/>
<circle cx="668.96" cy="92.00" r="2.2" fill="#940a12" fill-opacity="0.5"/>
<circle cx="666.96" cy="95.00" r="2.2" fill="#940a12" fill-opacity="0.5"/>
<circle cx="667.96" cy="98.00" r="2.2" fill="#940a12" fill-opacity="0.5"/>
<circle cx="666.96" cy="101.00" r="2.2" fill="#940a12" fill-opacity="0.5"/>
<circle cx="668.46" cy="103.30" r="2.2" fill="#940a12" fill-opacity="0.5"/>
<line x1="629.50" y1="74.50" x2="682.80" y2="74.50" stroke="#f44848" stroke-width="1.3" stroke-dasharray="2.8,2.6"/>
<polyline points="644.04,44.30 644.04,42.10 668.26,42.10 668.26,44.30" fill="none" stroke="#666" stroke-width="0.9"/>
<text transform="translate(656.15 37.70)" font-size="10.0" fill="#1a1a1a" text-anchor="middle" font-weight="normal" dominant-baseline="central" stroke="#1a1a1a" stroke-width="0.25">0.043</text>
<rect x="23.00" y="141.60" width="317.00" height="18.90" fill="#e5e5e5"/>
<text transform="translate(179.90 151.65) scale(0.95 1.0)" font-size="12.1" fill="#1a1a1a" text-anchor="middle" font-weight="normal" dominant-baseline="central" stroke="#1a1a1a" stroke-width="0.25">5-transcript</text>
<rect x="25.50" y="169.10" width="104.80" height="87.70" fill="none" stroke="#b0b0b0" stroke-width="1"/>
<line x1="25.50" y1="168.60" x2="25.50" y2="257.30" stroke="#7a7a7a" stroke-width="1"/>
<line x1="25.00" y1="256.80" x2="130.80" y2="256.80" stroke="#7a7a7a" stroke-width="1"/>
<line x1="25.50" y1="256.80" x2="130.30" y2="169.10" stroke="#444" stroke-width="0.8" stroke-dasharray="1.6,2.2"/>
<clipPath id="c3"><rect x="25.50" y="169.10" width="104.80" height="87.70"/></clipPath><g clip-path="url(#c3)">
<polyline points="25.50,256.80 25.50,237.31 35.98,237.31 35.98,227.57 46.46,227.57 46.46,208.08 67.42,208.08 67.42,188.59 88.38,188.59 88.38,178.84 109.34,178.84 109.34,169.10 130.30,169.10" fill="none" stroke="#222222" stroke-width="1.3"/>
<polyline points="25.50,256.80 25.50,247.06 28.77,247.06 28.77,237.31 32.05,237.31 32.05,227.57 41.88,227.57 41.88,208.08 61.53,208.08 61.53,188.59 77.90,188.59 77.90,178.84 107.38,178.84 107.38,169.10 130.30,169.10" fill="none" stroke="#b37dff" stroke-width="1.3"/>
<polyline points="25.50,256.80 25.50,247.06 30.26,247.06 30.26,227.57 39.79,227.57 39.79,208.08 58.85,208.08 58.85,188.59 68.37,188.59 68.37,178.84 96.95,178.84 96.95,169.10 130.30,169.10" fill="none" stroke="#e0303a" stroke-width="1.3"/>
</g>
<line x1="23.50" y1="169.10" x2="25.50" y2="169.10" stroke="#5a5a5a" stroke-width="0.8"/>
<text transform="translate(23.50 169.10) scale(1.0 0.92)" font-size="10.0" fill="#454545" text-anchor="end" font-weight="normal" dominant-baseline="central" stroke="#454545" stroke-width="0.12">1</text>
<line x1="23.50" y1="212.95" x2="25.50" y2="212.95" stroke="#5a5a5a" stroke-width="0.8"/>
<text transform="translate(23.50 212.95) scale(1.0 0.92)" font-size="10.0" fill="#454545" text-anchor="end" font-weight="normal" dominant-baseline="central" stroke="#454545" stroke-width="0.12">0.5</text>
<line x1="25.50" y1="256.80" x2="25.50" y2="258.80" stroke="#5a5a5a" stroke-width="0.8"/>
<text transform="translate(25.50 262.60) scale(1.0 0.92)" font-size="10.0" fill="#454545" text-anchor="middle" font-weight="normal" dominant-baseline="central" stroke="#454545" stroke-width="0.12">0</text>
<line x1="77.90" y1="256.80" x2="77.90" y2="258.80" stroke="#5a5a5a" stroke-width="0.8"/>
<text transform="translate(77.90 262.60) scale(1.0 0.92)" font-size="10.0" fill="#454545" text-anchor="middle" font-weight="normal" dominant-baseline="central" stroke="#454545" stroke-width="0.12">0.5</text>
<line x1="130.30" y1="256.80" x2="130.30" y2="258.80" stroke="#5a5a5a" stroke-width="0.8"/>
<text transform="translate(130.30 262.60) scale(1.0 0.92)" font-size="10.0" fill="#454545" text-anchor="middle" font-weight="normal" dominant-baseline="central" stroke="#454545" stroke-width="0.12">1</text>
<text transform="translate(3.60 213.10) rotate(-90)" font-size="9.5" fill="#1a1a1a" text-anchor="middle" font-weight="normal" dominant-baseline="central" stroke="#1a1a1a" stroke-width="0.25">Sensitivity</text>
<text transform="translate(77.80 272.10) scale(0.96 1.0)" font-size="9.5" fill="#1a1a1a" text-anchor="middle" font-weight="normal" dominant-baseline="central" stroke="#1a1a1a" stroke-width="0.25">1–Specificity</text>
<text transform="translate(126.90 221.10) scale(1.03 1.0)" font-size="10.2" fill="#000" text-anchor="end" font-weight="bold" dominant-baseline="central">M-V: .70</text>
<text transform="translate(126.90 235.10) scale(1.03 1.0)" font-size="10.2" fill="#c00000" text-anchor="end" font-weight="bold" dominant-baseline="central">M-B: .77</text>
<text transform="translate(126.90 249.10) scale(1.03 1.0)" font-size="10.2" fill="#a862ff" text-anchor="end" font-weight="bold" dominant-baseline="central">M-VB: .74</text>
<rect x="160.80" y="169.70" width="47.50" height="85.60" fill="none" stroke="#b0b0b0" stroke-width="1"/>
<line x1="160.80" y1="169.20" x2="160.80" y2="255.80" stroke="#7a7a7a" stroke-width="1"/>
<line x1="160.30" y1="255.30" x2="208.80" y2="255.30" stroke="#7a7a7a" stroke-width="1"/>
<line x1="158.80" y1="180.70" x2="160.80" y2="180.70" stroke="#5a5a5a" stroke-width="0.8"/>
<text transform="translate(158.90 180.70) scale(1.0 0.92)" font-size="10.0" fill="#454545" text-anchor="end" font-weight="normal" dominant-baseline="central" stroke="#454545" stroke-width="0.12">15</text>
<line x1="158.80" y1="207.60" x2="160.80" y2="207.60" stroke="#5a5a5a" stroke-width="0.8"/>
<text transform="translate(158.90 207.60) scale(1.0 0.92)" font-size="10.0" fill="#454545" text-anchor="end" font-weight="normal" dominant-baseline="central" stroke="#454545" stroke-width="0.12">12</text>
<line x1="158.80" y1="233.70" x2="160.80" y2="233.70" stroke="#5a5a5a" stroke-width="0.8"/>
<text transform="translate(158.90 233.70) scale(1.0 0.92)" font-size="10.0" fill="#454545" text-anchor="end" font-weight="normal" dominant-baseline="central" stroke="#454545" stroke-width="0.12">9</text>
<line x1="173.75" y1="255.30" x2="173.75" y2="257.30" stroke="#5a5a5a" stroke-width="0.8"/>
<text transform="translate(173.75 261.20) scale(1.0 0.92)" font-size="10.0" fill="#454545" text-anchor="middle" font-weight="normal" dominant-baseline="central" stroke="#454545" stroke-width="0.12">M</text>
<line x1="195.35" y1="255.30" x2="195.35" y2="257.30" stroke="#5a5a5a" stroke-width="0.8"/>
<text transform="translate(195.35 261.20) scale(1.0 0.92)" font-size="10.0" fill="#454545" text-anchor="middle" font-weight="normal" dominant-baseline="central" stroke="#454545" stroke-width="0.12">V</text>
<line x1="173.75" y1="207.60" x2="173.75" y2="214.90" stroke="#17becf" stroke-width="0.9" stroke-opacity="0.6"/>
<line x1="173.75" y1="228.30" x2="173.75" y2="240.50" stroke="#17becf" stroke-width="0.9" stroke-opacity="0.6"/>
<rect x="165.12" y="214.90" width="17.27" height="13.40" fill="#17becf" fill-opacity="0.5" stroke="#17becf" stroke-opacity="0.6" stroke-width="0.9"/>
<line x1="165.12" y1="221.60" x2="182.39" y2="221.60" stroke="#17becf" stroke-width="1.2" stroke-opacity="0.75"/>
<circle cx="174.55" cy="187.00" r="2.2" fill="#17becf" fill-opacity="0.5"/>
<circle cx="174.55" cy="207.60" r="2.2" fill="#17becf" fill-opacity="0.5"/>
<circle cx="172.95" cy="216.00" r="2.2" fill="#17becf" fill-opacity="0.5"/>
<circle cx="174.45" cy="219.50" r="2.2" fill="#17becf" fill-opacity="0.5"/>
<circle cx="174.95" cy="222.00" r="2.2" fill="#17becf" fill-opacity="0.5"/>
<circle cx="173.95" cy="226.00" r="2.2" fill="#17becf" fill-opacity="0.5"/>
<circle cx="171.65" cy="232.70" r="2.2" fill="#17becf" fill-opacity="0.5"/>
<circle cx="175.75" cy="240.50" r="2.2" fill="#17becf" fill-opacity="0.5"/>
<line x1="195.35" y1="213.50" x2="195.35" y2="223.50" stroke="#bcbd22" stroke-width="0.9" stroke-opacity="0.6"/>
<line x1="195.35" y1="238.30" x2="195.35" y2="242.80" stroke="#bcbd22" stroke-width="0.9" stroke-opacity="0.6"/>
<rect x="186.71" y="223.50" width="17.27" height="14.80" fill="#bcbd22" fill-opacity="0.5" stroke="#bcbd22" stroke-opacity="0.6" stroke-width="0.9"/>
<line x1="186.71" y1="228.70" x2="203.98" y2="228.70" stroke="#bcbd22" stroke-width="1.2" stroke-opacity="0.75"/>
<circle cx="196.75" cy="213.50" r="2.2" fill="#bcbd22" fill-opacity="0.5"/>
<circle cx="195.35" cy="216.00" r="2.2" fill="#bcbd22" fill-opacity="0.5"/>
<circle cx="193.85" cy="222.00" r="2.2" fill="#bcbd22" fill-opacity="0.5"/>
<circle cx="196.35" cy="225.00" r="2.2" fill="#bcbd22" fill-opacity="0.5"/>
<circle cx="195.85" cy="229.00" r="2.2" fill="#bcbd22" fill-opacity="0.5"/>
<circle cx="196.85" cy="234.00" r="2.2" fill="#bcbd22" fill-opacity="0.5"/>
<circle cx="195.85" cy="240.00" r="2.2" fill="#bcbd22" fill-opacity="0.5"/>
<circle cx="194.35" cy="242.80" r="2.2" fill="#bcbd22" fill-opacity="0.5"/>
<circle cx="196.85" cy="242.00" r="2.2" fill="#bcbd22" fill-opacity="0.5"/>
<line x1="160.80" y1="228.00" x2="208.30" y2="228.00" stroke="#f44848" stroke-width="1.3" stroke-dasharray="2.8,2.6"/>
<polyline points="173.75,184.10 173.75,181.90 195.35,181.90 195.35,184.10" fill="none" stroke="#666" stroke-width="0.9"/>
<text transform="translate(184.55 177.50)" font-size="10.0" fill="#1a1a1a" text-anchor="middle" font-weight="normal" dominant-baseline="central" stroke="#1a1a1a" stroke-width="0.25">0.15</text>
<text transform="translate(140.30 215.30) rotate(-90) scale(0.95 1.0)" font-size="10.3" fill="#1a1a1a" text-anchor="middle" font-weight="normal" dominant-baseline="central" stroke="#1a1a1a" stroke-width="0.25">Score</text>
<rect x="226.50" y="169.60" width="47.60" height="85.40" fill="none" stroke="#b0b0b0" stroke-width="1"/>
<line x1="226.50" y1="169.10" x2="226.50" y2="255.50" stroke="#7a7a7a" stroke-width="1"/>
<line x1="226.00" y1="255.00" x2="274.60" y2="255.00" stroke="#7a7a7a" stroke-width="1"/>
<line x1="224.50" y1="187.50" x2="226.50" y2="187.50" stroke="#5a5a5a" stroke-width="0.8"/>
<text transform="translate(224.60 187.50) scale(1.0 0.92)" font-size="10.0" fill="#454545" text-anchor="end" font-weight="normal" dominant-baseline="central" stroke="#454545" stroke-width="0.12">15</text>
<line x1="224.50" y1="206.60" x2="226.50" y2="206.60" stroke="#5a5a5a" stroke-width="0.8"/>
<text transform="translate(224.60 206.60) scale(1.0 0.92)" font-size="10.0" fill="#454545" text-anchor="end" font-weight="normal" dominant-baseline="central" stroke="#454545" stroke-width="0.12">12</text>
<line x1="224.50" y1="225.80" x2="226.50" y2="225.80" stroke="#5a5a5a" stroke-width="0.8"/>
<text transform="translate(224.60 225.80) scale(1.0 0.92)" font-size="10.0" fill="#454545" text-anchor="end" font-weight="normal" dominant-baseline="central" stroke="#454545" stroke-width="0.12">9</text>
<line x1="224.50" y1="244.80" x2="226.50" y2="244.80" stroke="#5a5a5a" stroke-width="0.8"/>
<text transform="translate(224.60 244.80) scale(1.0 0.92)" font-size="10.0" fill="#454545" text-anchor="end" font-weight="normal" dominant-baseline="central" stroke="#454545" stroke-width="0.12">6</text>
<line x1="239.48" y1="255.00" x2="239.48" y2="257.00" stroke="#5a5a5a" stroke-width="0.8"/>
<text transform="translate(239.48 260.90) scale(1.0 0.92)" font-size="10.0" fill="#454545" text-anchor="middle" font-weight="normal" dominant-baseline="central" stroke="#454545" stroke-width="0.12">M</text>
<line x1="261.12" y1="255.00" x2="261.12" y2="257.00" stroke="#5a5a5a" stroke-width="0.8"/>
<text transform="translate(261.12 260.90) scale(1.0 0.92)" font-size="10.0" fill="#454545" text-anchor="middle" font-weight="normal" dominant-baseline="central" stroke="#454545" stroke-width="0.12">VB</text>
<line x1="239.48" y1="200.40" x2="239.48" y2="205.90" stroke="#17becf" stroke-width="0.9" stroke-opacity="0.6"/>
<line x1="239.48" y1="216.20" x2="239.48" y2="227.80" stroke="#17becf" stroke-width="0.9" stroke-opacity="0.6"/>
<rect x="230.83" y="205.90" width="17.31" height="10.30" fill="#17becf" fill-opacity="0.5" stroke="#17becf" stroke-opacity="0.6" stroke-width="0.9"/>
<line x1="230.83" y1="211.70" x2="248.14" y2="211.70" stroke="#17becf" stroke-width="1.2" stroke-opacity="0.75"/>
<circle cx="240.78" cy="187.50" r="2.2" fill="#17becf" fill-opacity="0.5"/>
<circle cx="237.68" cy="200.40" r="2.2" fill="#17becf" fill-opacity="0.5"/>
<circle cx="239.48" cy="205.00" r="2.2" fill="#17becf" fill-opacity="0.5"/>
<circle cx="239.98" cy="210.00" r="2.2" fill="#17becf" fill-opacity="0.5"/>
<circle cx="238.98" cy="213.00" r="2.2" fill="#17becf" fill-opacity="0.5"/>
<circle cx="240.38" cy="221.30" r="2.2" fill="#17becf" fill-opacity="0.5"/>
<circle cx="237.68" cy="227.80" r="2.2" fill="#17becf" fill-opacity="0.5"/>
<line x1="261.12" y1="204.90" x2="261.12" y2="214.10" stroke="#ad6eff" stroke-width="0.9" stroke-opacity="0.6"/>
<line x1="261.12" y1="226.40" x2="261.12" y2="243.10" stroke="#ad6eff" stroke-width="0.9" stroke-opacity="0.6"/>
<rect x="252.46" y="214.10" width="17.31" height="12.30" fill="#ad6eff" fill-opacity="0.5" stroke="#ad6eff" stroke-opacity="0.6" stroke-width="0.9"/>
<line x1="252.46" y1="220.20" x2="269.77" y2="220.20" stroke="#ad6eff" stroke-width="1.2" stroke-opacity="0.75"/>
<circle cx="261.22" cy="189.20" r="2.2" fill="#ad6eff" fill-opacity="0.5"/>
<circle cx="259.52" cy="204.90" r="2.2" fill="#ad6eff" fill-opacity="0.5"/>
<circle cx="262.02" cy="206.50" r="2.2" fill="#ad6eff" fill-opacity="0.5"/>
<circle cx="260.02" cy="209.00" r="2.2" fill="#ad6eff" fill-opacity="0.5"/>
<circle cx="263.02" cy="211.00" r="2.2" fill="#ad6eff" fill-opacity="0.5"/>
<circle cx="261.02" cy="213.00" r="2.2" fill="#ad6eff" fill-opacity="0.5"/>
<circle cx="259.52" cy="216.00" r="2.2" fill="#ad6eff" fill-opacity="0.5"/>
<circle cx="262.02" cy="218.00" r="2.2" fill="#ad6eff" fill-opacity="0.5"/>
<circle cx="260.52" cy="220.00" r="2.2" fill="#ad6eff" fill-opacity="0.5"/>
<circle cx="263.02" cy="222.00" r="2.2" fill="#ad6eff" fill-opacity="0.5"/>
<circle cx="261.02" cy="225.00" r="2.2" fill="#ad6eff" fill-opacity="0.5"/>
<circle cx="259.52" cy="228.00" r="2.2" fill="#ad6eff" fill-opacity="0.5"/>
<circle cx="262.02" cy="230.00" r="2.2" fill="#ad6eff" fill-opacity="0.5"/>
<circle cx="260.52" cy="233.00" r="2.2" fill="#ad6eff" fill-opacity="0.5"/>
<circle cx="262.02" cy="235.00" r="2.2" fill="#ad6eff" fill-opacity="0.5"/>
<circle cx="261.02" cy="238.00" r="2.2" fill="#ad6eff" fill-opacity="0.5"/>
<circle cx="259.52" cy="241.00" r="2.2" fill="#ad6eff" fill-opacity="0.5"/>
<circle cx="261.52" cy="243.10" r="2.2" fill="#ad6eff" fill-opacity="0.5"/>
<line x1="226.50" y1="216.20" x2="274.10" y2="216.20" stroke="#f44848" stroke-width="1.3" stroke-dasharray="2.8,2.6"/>
<polyline points="239.48,184.10 239.48,181.90 261.12,181.90 261.12,184.10" fill="none" stroke="#666" stroke-width="0.9"/>
<text transform="translate(250.30 177.30)" font-size="10.0" fill="#1a1a1a" text-anchor="middle" font-weight="normal" dominant-baseline="central" stroke="#1a1a1a" stroke-width="0.25">0.029</text>
<rect x="291.40" y="169.60" width="47.90" height="85.40" fill="none" stroke="#b0b0b0" stroke-width="1"/>
<line x1="291.40" y1="169.10" x2="291.40" y2="255.50" stroke="#7a7a7a" stroke-width="1"/>
<line x1="290.90" y1="255.00" x2="339.80" y2="255.00" stroke="#7a7a7a" stroke-width="1"/>
<line x1="289.40" y1="187.50" x2="291.40" y2="187.50" stroke="#5a5a5a" stroke-width="0.8"/>
<text transform="translate(289.50 187.50) scale(1.0 0.92)" font-size="10.0" fill="#454545" text-anchor="end" font-weight="normal" dominant-baseline="central" stroke="#454545" stroke-width="0.12">15</text>
<line x1="289.40" y1="207.40" x2="291.40" y2="207.40" stroke="#5a5a5a" stroke-width="0.8"/>
<text transform="translate(289.50 207.40) scale(1.0 0.92)" font-size="10.0" fill="#454545" text-anchor="end" font-weight="normal" dominant-baseline="central" stroke="#454545" stroke-width="0.12">12</text>
<line x1="289.40" y1="226.80" x2="291.40" y2="226.80" stroke="#5a5a5a" stroke-width="0.8"/>
<text transform="translate(289.50 226.80) scale(1.0 0.92)" font-size="10.0" fill="#454545" text-anchor="end" font-weight="normal" dominant-baseline="central" stroke="#454545" stroke-width="0.12">9</text>
<line x1="289.40" y1="246.40" x2="291.40" y2="246.40" stroke="#5a5a5a" stroke-width="0.8"/>
<text transform="translate(289.50 246.40) scale(1.0 0.92)" font-size="10.0" fill="#454545" text-anchor="end" font-weight="normal" dominant-baseline="central" stroke="#454545" stroke-width="0.12">6</text>
<line x1="304.46" y1="255.00" x2="304.46" y2="257.00" stroke="#5a5a5a" stroke-width="0.8"/>
<text transform="translate(304.46 260.90) scale(1.0 0.92)" font-size="10.0" fill="#454545" text-anchor="middle" font-weight="normal" dominant-baseline="central" stroke="#454545" stroke-width="0.12">M</text>
<line x1="326.24" y1="255.00" x2="326.24" y2="257.00" stroke="#5a5a5a" stroke-width="0.8"/>
<text transform="translate(326.24 260.90) scale(1.0 0.92)" font-size="10.0" fill="#454545" text-anchor="middle" font-weight="normal" dominant-baseline="central" stroke="#454545" stroke-width="0.12">B</text>
<line x1="304.46" y1="202.30" x2="304.46" y2="207.40" stroke="#17becf" stroke-width="0.9" stroke-opacity="0.6"/>
<line x1="304.46" y1="217.20" x2="304.46" y2="229.40" stroke="#17becf" stroke-width="0.9" stroke-opacity="0.6"/>
<rect x="295.75" y="207.40" width="17.42" height="9.80" fill="#17becf" fill-opacity="0.5" stroke="#17becf" stroke-opacity="0.6" stroke-width="0.9"/>
<line x1="295.75" y1="213.10" x2="313.17" y2="213.10" stroke="#17becf" stroke-width="1.2" stroke-opacity="0.75"/>
<circle cx="304.46" cy="187.50" r="2.2" fill="#17becf" fill-opacity="0.5"/>
<circle cx="304.46" cy="202.30" r="2.2" fill="#17becf" fill-opacity="0.5"/>
<circle cx="304.96" cy="210.00" r="2.2" fill="#17becf" fill-opacity="0.5"/>
<circle cx="303.96" cy="214.00" r="2.2" fill="#17becf" fill-opacity="0.5"/>
<circle cx="304.96" cy="217.50" r="2.2" fill="#17becf" fill-opacity="0.5"/>
<circle cx="302.96" cy="222.00" r="2.2" fill="#17becf" fill-opacity="0.5"/>
<circle cx="303.96" cy="229.40" r="2.2" fill="#17becf" fill-opacity="0.5"/>
<line x1="326.24" y1="210.40" x2="326.24" y2="215.50" stroke="#940a12" stroke-width="0.9" stroke-opacity="0.6"/>
<line x1="326.24" y1="231.50" x2="326.24" y2="243.10" stroke="#940a12" stroke-width="0.9" stroke-opacity="0.6"/>
<rect x="317.53" y="215.50" width="17.42" height="16.00" fill="#940a12" fill-opacity="0.5" stroke="#940a12" stroke-opacity="0.6" stroke-width="0.9"/>
<line x1="317.53" y1="225.40" x2="334.95" y2="225.40" stroke="#940a12" stroke-width="1.2" stroke-opacity="0.75"/>
<circle cx="326.64" cy="189.20" r="2.2" fill="#940a12" fill-opacity="0.5"/>
<circle cx="325.04" cy="210.40" r="2.2" fill="#940a12" fill-opacity="0.5"/>
<circle cx="327.04" cy="213.00" r="2.2" fill="#940a12" fill-opacity="0.5"/>
<circle cx="326.04" cy="216.00" r="2.2" fill="#940a12" fill-opacity="0.5"/>
<circle cx="324.04" cy="219.00" r="2.2" fill="#940a12" fill-opacity="0.5"/>
<circle cx="327.04" cy="221.00" r="2.2" fill="#940a12" fill-opacity="0.5"/>
<circle cx="326.04" cy="224.00" r="2.2" fill="#940a12" fill-opacity="0.5"/>
<circle cx="325.04" cy="226.00" r="2.2" fill="#940a12" fill-opacity="0.5"/>
<circle cx="327.04" cy="229.00" r="2.2" fill="#940a12" fill-opacity="0.5"/>
<circle cx="325.54" cy="232.00" r="2.2" fill="#940a12" fill-opacity="0.5"/>
<circle cx="326.54" cy="236.00" r="2.2" fill="#940a12" fill-opacity="0.5"/>
<circle cx="325.54" cy="240.00" r="2.2" fill="#940a12" fill-opacity="0.5"/>
<circle cx="322.54" cy="243.00" r="2.2" fill="#940a12" fill-opacity="0.5"/>
<circle cx="328.04" cy="243.00" r="2.2" fill="#940a12" fill-opacity="0.5"/>
<line x1="291.40" y1="222.70" x2="339.30" y2="222.70" stroke="#f44848" stroke-width="1.3" stroke-dasharray="2.8,2.6"/>
<polyline points="304.46,184.10 304.46,181.90 326.24,181.90 326.24,184.10" fill="none" stroke="#666" stroke-width="0.9"/>
<text transform="translate(315.35 177.30)" font-size="10.0" fill="#1a1a1a" text-anchor="middle" font-weight="normal" dominant-baseline="central" stroke="#1a1a1a" stroke-width="0.25">0.022</text>
<rect x="368.00" y="142.00" width="317.00" height="18.30" fill="#e5e5e5"/>
<text transform="translate(524.90 151.75) scale(0.95 1.0)" font-size="12.1" fill="#1a1a1a" text-anchor="middle" font-weight="normal" dominant-baseline="central" stroke="#1a1a1a" stroke-width="0.25">6-transcript</text>
<rect x="371.10" y="169.50" width="104.40" height="88.00" fill="none" stroke="#b0b0b0" stroke-width="1"/>
<line x1="371.10" y1="169.00" x2="371.10" y2="258.00" stroke="#7a7a7a" stroke-width="1"/>
<line x1="370.60" y1="257.50" x2="476.00" y2="257.50" stroke="#7a7a7a" stroke-width="1"/>
<line x1="371.10" y1="257.50" x2="475.50" y2="169.50" stroke="#444" stroke-width="0.8" stroke-dasharray="1.6,2.2"/>
<clipPath id="c4"><rect x="371.10" y="169.50" width="104.40" height="88.00"/></clipPath><g clip-path="url(#c4)">
<polyline points="371.10,257.50 371.10,228.17 381.54,228.17 381.54,218.39 391.98,218.39 391.98,189.06 412.86,189.06 412.86,179.28 433.74,179.28 433.74,169.50 475.50,169.50" fill="none" stroke="#222222" stroke-width="1.3"/>
<polyline points="371.10,257.50 374.36,257.50 374.36,247.72 377.62,247.72 377.62,228.17 387.41,228.17 387.41,198.83 403.73,198.83 403.73,189.06 406.99,189.06 406.99,179.28 462.45,179.28 462.45,169.50 475.50,169.50" fill="none" stroke="#b37dff" stroke-width="1.3"/>
<polyline points="371.10,257.50 375.85,257.50 375.85,247.72 385.34,247.72 385.34,198.83 409.06,198.83 409.06,189.06 413.81,189.06 413.81,179.28 461.26,179.28 461.26,169.50 475.50,169.50" fill="none" stroke="#e0303a" stroke-width="1.3"/>
</g>
<line x1="369.10" y1="169.50" x2="371.10" y2="169.50" stroke="#5a5a5a" stroke-width="0.8"/>
<text transform="translate(369.10 169.50) scale(1.0 0.92)" font-size="10.0" fill="#454545" text-anchor="end" font-weight="normal" dominant-baseline="central" stroke="#454545" stroke-width="0.12">1</text>
<line x1="369.10" y1="213.50" x2="371.10" y2="213.50" stroke="#5a5a5a" stroke-width="0.8"/>
<text transform="translate(369.10 213.50) scale(1.0 0.92)" font-size="10.0" fill="#454545" text-anchor="end" font-weight="normal" dominant-baseline="central" stroke="#454545" stroke-width="0.12">0.5</text>
<line x1="371.10" y1="257.50" x2="371.10" y2="259.50" stroke="#5a5a5a" stroke-width="0.8"/>
<text transform="translate(371.10 263.30) scale(1.0 0.92)" font-size="10.0" fill="#454545" text-anchor="middle" font-weight="normal" dominant-baseline="central" stroke="#454545" stroke-width="0.12">0</text>
<line x1="423.30" y1="257.50" x2="423.30" y2="259.50" stroke="#5a5a5a" stroke-width="0.8"/>
<text transform="translate(423.30 263.30) scale(1.0 0.92)" font-size="10.0" fill="#454545" text-anchor="middle" font-weight="normal" dominant-baseline="central" stroke="#454545" stroke-width="0.12">0.5</text>
<line x1="475.50" y1="257.50" x2="475.50" y2="259.50" stroke="#5a5a5a" stroke-width="0.8"/>
<text transform="translate(475.50 263.30) scale(1.0 0.92)" font-size="10.0" fill="#454545" text-anchor="middle" font-weight="normal" dominant-baseline="central" stroke="#454545" stroke-width="0.12">1</text>
<text transform="translate(349.20 213.50) rotate(-90)" font-size="9.5" fill="#1a1a1a" text-anchor="middle" font-weight="normal" dominant-baseline="central" stroke="#1a1a1a" stroke-width="0.25">Sensitivity</text>
<text transform="translate(423.40 272.80) scale(0.96 1.0)" font-size="9.5" fill="#1a1a1a" text-anchor="middle" font-weight="normal" dominant-baseline="central" stroke="#1a1a1a" stroke-width="0.25">1–Specificity</text>
<text transform="translate(472.00 221.50) scale(1.03 1.0)" font-size="10.2" fill="#000" text-anchor="end" font-weight="bold" dominant-baseline="central">M-V: .81</text>
<text transform="translate(472.00 235.50) scale(1.03 1.0)" font-size="10.2" fill="#c00000" text-anchor="end" font-weight="bold" dominant-baseline="central">M-B: .74</text>
<text transform="translate(472.00 249.50) scale(1.03 1.0)" font-size="10.2" fill="#a862ff" text-anchor="end" font-weight="bold" dominant-baseline="central">M-VB: .76</text>
<rect x="498.50" y="169.70" width="53.80" height="86.50" fill="none" stroke="#b0b0b0" stroke-width="1"/>
<line x1="498.50" y1="169.20" x2="498.50" y2="256.70" stroke="#7a7a7a" stroke-width="1"/>
<line x1="498.00" y1="256.20" x2="552.80" y2="256.20" stroke="#7a7a7a" stroke-width="1"/>
<line x1="496.50" y1="206.60" x2="498.50" y2="206.60" stroke="#5a5a5a" stroke-width="0.8"/>
<text transform="translate(496.60 206.60) scale(1.0 0.92)" font-size="10.0" fill="#454545" text-anchor="end" font-weight="normal" dominant-baseline="central" stroke="#454545" stroke-width="0.12">6</text>
<line x1="496.50" y1="251.40" x2="498.50" y2="251.40" stroke="#5a5a5a" stroke-width="0.8"/>
<text transform="translate(496.60 251.40) scale(1.0 0.92)" font-size="10.0" fill="#454545" text-anchor="end" font-weight="normal" dominant-baseline="central" stroke="#454545" stroke-width="0.12">3</text>
<line x1="513.17" y1="256.20" x2="513.17" y2="258.20" stroke="#5a5a5a" stroke-width="0.8"/>
<text transform="translate(513.17 262.10) scale(1.0 0.92)" font-size="10.0" fill="#454545" text-anchor="middle" font-weight="normal" dominant-baseline="central" stroke="#454545" stroke-width="0.12">M</text>
<line x1="537.63" y1="256.20" x2="537.63" y2="258.20" stroke="#5a5a5a" stroke-width="0.8"/>
<text transform="translate(537.63 262.10) scale(1.0 0.92)" font-size="10.0" fill="#454545" text-anchor="middle" font-weight="normal" dominant-baseline="central" stroke="#454545" stroke-width="0.12">V</text>
<line x1="513.17" y1="187.00" x2="513.17" y2="198.90" stroke="#17becf" stroke-width="0.9" stroke-opacity="0.6"/>
<line x1="513.17" y1="213.00" x2="513.17" y2="232.20" stroke="#17becf" stroke-width="0.9" stroke-opacity="0.6"/>
<rect x="503.39" y="198.90" width="19.56" height="14.10" fill="#17becf" fill-opacity="0.5" stroke="#17becf" stroke-opacity="0.6" stroke-width="0.9"/>
<line x1="503.39" y1="212.60" x2="522.95" y2="212.60" stroke="#17becf" stroke-width="1.2" stroke-opacity="0.75"/>
<circle cx="512.07" cy="187.00" r="2.2" fill="#17becf" fill-opacity="0.5"/>
<circle cx="513.97" cy="196.20" r="2.2" fill="#17becf" fill-opacity="0.5"/>
<circle cx="511.47" cy="199.00" r="2.2" fill="#17becf" fill-opacity="0.5"/>
<circle cx="512.97" cy="208.70" r="2.2" fill="#17becf" fill-opacity="0.5"/>
<circle cx="513.97" cy="213.00" r="2.2" fill="#17becf" fill-opacity="0.5"/>
<circle cx="512.97" cy="223.20" r="2.2" fill="#17becf" fill-opacity="0.5"/>
<circle cx="511.17" cy="232.20" r="2.2" fill="#17becf" fill-opacity="0.5"/>
<line x1="537.63" y1="208.20" x2="537.63" y2="215.30" stroke="#bcbd22" stroke-width="0.9" stroke-opacity="0.6"/>
<line x1="537.63" y1="239.50" x2="537.63" y2="243.70" stroke="#bcbd22" stroke-width="0.9" stroke-opacity="0.6"/>
<rect x="527.85" y="215.30" width="19.56" height="24.20" fill="#bcbd22" fill-opacity="0.5" stroke="#bcbd22" stroke-opacity="0.6" stroke-width="0.9"/>
<line x1="527.85" y1="226.40" x2="547.41" y2="226.40" stroke="#bcbd22" stroke-width="1.2" stroke-opacity="0.75"/>
<circle cx="537.53" cy="208.20" r="2.2" fill="#bcbd22" fill-opacity="0.5"/>
<circle cx="538.03" cy="211.00" r="2.2" fill="#bcbd22" fill-opacity="0.5"/>
<circle cx="537.03" cy="215.00" r="2.2" fill="#bcbd22" fill-opacity="0.5"/>
<circle cx="536.53" cy="219.30" r="2.2" fill="#bcbd22" fill-opacity="0.5"/>
<circle cx="537.03" cy="226.40" r="2.2" fill="#bcbd22" fill-opacity="0.5"/>
<circle cx="536.53" cy="235.10" r="2.2" fill="#bcbd22" fill-opacity="0.5"/>
<circle cx="537.53" cy="240.80" r="2.2" fill="#bcbd22" fill-opacity="0.5"/>
<circle cx="539.53" cy="243.70" r="2.2" fill="#bcbd22" fill-opacity="0.5"/>
<line x1="498.50" y1="213.30" x2="552.30" y2="213.30" stroke="#f44848" stroke-width="1.3" stroke-dasharray="2.8,2.6"/>
<polyline points="513.17,184.30 513.17,182.10 537.63,182.10 537.63,184.30" fill="none" stroke="#666" stroke-width="0.9"/>
<text transform="translate(525.40 177.70)" font-size="10.0" fill="#1a1a1a" text-anchor="middle" font-weight="normal" dominant-baseline="central" stroke="#1a1a1a" stroke-width="0.25">0.025</text>
<text transform="translate(483.40 213.90) rotate(-90) scale(0.95 1.0)" font-size="10.3" fill="#1a1a1a" text-anchor="middle" font-weight="normal" dominant-baseline="central" stroke="#1a1a1a" stroke-width="0.25">Score</text>
<rect x="564.40" y="169.90" width="54.00" height="86.30" fill="none" stroke="#b0b0b0" stroke-width="1"/>
<line x1="564.40" y1="169.40" x2="564.40" y2="256.70" stroke="#7a7a7a" stroke-width="1"/>
<line x1="563.90" y1="256.20" x2="618.90" y2="256.20" stroke="#7a7a7a" stroke-width="1"/>
<line x1="562.40" y1="182.30" x2="564.40" y2="182.30" stroke="#5a5a5a" stroke-width="0.8"/>
<text transform="translate(562.50 182.30) scale(1.0 0.92)" font-size="10.0" fill="#454545" text-anchor="end" font-weight="normal" dominant-baseline="central" stroke="#454545" stroke-width="0.12">9</text>
<line x1="562.40" y1="208.90" x2="564.40" y2="208.90" stroke="#5a5a5a" stroke-width="0.8"/>
<text transform="translate(562.50 208.90) scale(1.0 0.92)" font-size="10.0" fill="#454545" text-anchor="end" font-weight="normal" dominant-baseline="central" stroke="#454545" stroke-width="0.12">6</text>
<line x1="562.40" y1="235.30" x2="564.40" y2="235.30" stroke="#5a5a5a" stroke-width="0.8"/>
<text transform="translate(562.50 235.30) scale(1.0 0.92)" font-size="10.0" fill="#454545" text-anchor="end" font-weight="normal" dominant-baseline="central" stroke="#454545" stroke-width="0.12">3</text>
<line x1="579.13" y1="256.20" x2="579.13" y2="258.20" stroke="#5a5a5a" stroke-width="0.8"/>
<text transform="translate(579.13 262.10) scale(1.0 0.92)" font-size="10.0" fill="#454545" text-anchor="middle" font-weight="normal" dominant-baseline="central" stroke="#454545" stroke-width="0.12">M</text>
<line x1="603.67" y1="256.20" x2="603.67" y2="258.20" stroke="#5a5a5a" stroke-width="0.8"/>
<text transform="translate(603.67 262.10) scale(1.0 0.92)" font-size="10.0" fill="#454545" text-anchor="middle" font-weight="normal" dominant-baseline="central" stroke="#454545" stroke-width="0.12">VB</text>
<line x1="579.13" y1="198.90" x2="579.13" y2="199.80" stroke="#17becf" stroke-width="0.9" stroke-opacity="0.6"/>
<line x1="579.13" y1="214.80" x2="579.13" y2="228.00" stroke="#17becf" stroke-width="0.9" stroke-opacity="0.6"/>
<rect x="569.31" y="199.80" width="19.64" height="15.00" fill="#17becf" fill-opacity="0.5" stroke="#17becf" stroke-opacity="0.6" stroke-width="0.9"/>
<line x1="569.31" y1="208.30" x2="588.95" y2="208.30" stroke="#17becf" stroke-width="1.2" stroke-opacity="0.75"/>
<circle cx="579.03" cy="198.90" r="2.2" fill="#17becf" fill-opacity="0.5"/>
<circle cx="579.03" cy="207.90" r="2.2" fill="#17becf" fill-opacity="0.5"/>
<circle cx="581.03" cy="214.80" r="2.2" fill="#17becf" fill-opacity="0.5"/>
<circle cx="579.03" cy="228.00" r="2.2" fill="#17becf" fill-opacity="0.5"/>
<line x1="603.67" y1="198.90" x2="603.67" y2="211.30" stroke="#ad6eff" stroke-width="0.9" stroke-opacity="0.6"/>
<line x1="603.67" y1="224.70" x2="603.67" y2="243.80" stroke="#ad6eff" stroke-width="0.9" stroke-opacity="0.6"/>
<rect x="593.85" y="211.30" width="19.64" height="13.40" fill="#ad6eff" fill-opacity="0.5" stroke="#ad6eff" stroke-opacity="0.6" stroke-width="0.9"/>
<line x1="593.85" y1="219.20" x2="613.49" y2="219.20" stroke="#ad6eff" stroke-width="1.2" stroke-opacity="0.75"/>
<circle cx="602.77" cy="187.60" r="2.2" fill="#ad6eff" fill-opacity="0.5"/>
<circle cx="603.97" cy="198.90" r="2.2" fill="#ad6eff" fill-opacity="0.5"/>
<circle cx="604.97" cy="200.00" r="2.2" fill="#ad6eff" fill-opacity="0.5"/>
<circle cx="602.97" cy="205.40" r="2.2" fill="#ad6eff" fill-opacity="0.5"/>
<circle cx="603.97" cy="210.00" r="2.2" fill="#ad6eff" fill-opacity="0.5"/>
<circle cx="601.97" cy="213.00" r="2.2" fill="#ad6eff" fill-opacity="0.5"/>
<circle cx="604.97" cy="215.00" r="2.2" fill="#ad6eff" fill-opacity="0.5"/>
<circle cx="602.97" cy="218.00" r="2.2" fill="#ad6eff" fill-opacity="0.5"/>
<circle cx="600.97" cy="221.00" r="2.2" fill="#ad6eff" fill-opacity="0.5"/>
<circle cx="603.97" cy="223.00" r="2.2" fill="#ad6eff" fill-opacity="0.5"/>
<circle cx="601.97" cy="226.00" r="2.2" fill="#ad6eff" fill-opacity="0.5"/>
<circle cx="602.97" cy="230.60" r="2.2" fill="#ad6eff" fill-opacity="0.5"/>
<circle cx="601.97" cy="236.90" r="2.2" fill="#ad6eff" fill-opacity="0.5"/>
<circle cx="602.97" cy="243.80" r="2.2" fill="#ad6eff" fill-opacity="0.5"/>
<line x1="564.40" y1="216.20" x2="618.40" y2="216.20" stroke="#f44848" stroke-width="1.3" stroke-dasharray="2.8,2.6"/>
<polyline points="579.13,184.20 579.13,182.00 603.67,182.00 603.67,184.20" fill="none" stroke="#666" stroke-width="0.9"/>
<text transform="translate(591.40 177.30)" font-size="10.0" fill="#1a1a1a" text-anchor="middle" font-weight="normal" dominant-baseline="central" stroke="#1a1a1a" stroke-width="0.25">0.019</text>
<rect x="630.80" y="169.30" width="53.60" height="86.90" fill="none" stroke="#b0b0b0" stroke-width="1"/>
<line x1="630.80" y1="168.80" x2="630.80" y2="256.70" stroke="#7a7a7a" stroke-width="1"/>
<line x1="630.30" y1="256.20" x2="684.90" y2="256.20" stroke="#7a7a7a" stroke-width="1"/>
<line x1="628.80" y1="182.30" x2="630.80" y2="182.30" stroke="#5a5a5a" stroke-width="0.8"/>
<text transform="translate(628.90 182.30) scale(1.0 0.92)" font-size="10.0" fill="#454545" text-anchor="end" font-weight="normal" dominant-baseline="central" stroke="#454545" stroke-width="0.12">9</text>
<line x1="628.80" y1="208.70" x2="630.80" y2="208.70" stroke="#5a5a5a" stroke-width="0.8"/>
<text transform="translate(628.90 208.70) scale(1.0 0.92)" font-size="10.0" fill="#454545" text-anchor="end" font-weight="normal" dominant-baseline="central" stroke="#454545" stroke-width="0.12">6</text>
<line x1="628.80" y1="233.30" x2="630.80" y2="233.30" stroke="#5a5a5a" stroke-width="0.8"/>
<text transform="translate(628.90 233.30) scale(1.0 0.92)" font-size="10.0" fill="#454545" text-anchor="end" font-weight="normal" dominant-baseline="central" stroke="#454545" stroke-width="0.12">3</text>
<line x1="645.42" y1="256.20" x2="645.42" y2="258.20" stroke="#5a5a5a" stroke-width="0.8"/>
<text transform="translate(645.42 262.10) scale(1.0 0.92)" font-size="10.0" fill="#454545" text-anchor="middle" font-weight="normal" dominant-baseline="central" stroke="#454545" stroke-width="0.12">M</text>
<line x1="669.78" y1="256.20" x2="669.78" y2="258.20" stroke="#5a5a5a" stroke-width="0.8"/>
<text transform="translate(669.78 262.10) scale(1.0 0.92)" font-size="10.0" fill="#454545" text-anchor="middle" font-weight="normal" dominant-baseline="central" stroke="#454545" stroke-width="0.12">B</text>
<line x1="645.42" y1="198.90" x2="645.42" y2="201.40" stroke="#17becf" stroke-width="0.9" stroke-opacity="0.6"/>
<line x1="645.42" y1="214.60" x2="645.42" y2="227.00" stroke="#17becf" stroke-width="0.9" stroke-opacity="0.6"/>
<rect x="635.67" y="201.40" width="19.49" height="13.20" fill="#17becf" fill-opacity="0.5" stroke="#17becf" stroke-opacity="0.6" stroke-width="0.9"/>
<line x1="635.67" y1="208.30" x2="655.16" y2="208.30" stroke="#17becf" stroke-width="1.2" stroke-opacity="0.75"/>
<circle cx="645.42" cy="198.90" r="2.2" fill="#17becf" fill-opacity="0.5"/>
<circle cx="646.22" cy="202.00" r="2.2" fill="#17becf" fill-opacity="0.5"/>
<circle cx="645.22" cy="208.30" r="2.2" fill="#17becf" fill-opacity="0.5"/>
<circle cx="644.22" cy="218.20" r="2.2" fill="#17becf" fill-opacity="0.5"/>
<circle cx="643.22" cy="223.00" r="2.2" fill="#17becf" fill-opacity="0.5"/>
<circle cx="645.72" cy="227.00" r="2.2" fill="#17becf" fill-opacity="0.5"/>
<line x1="669.78" y1="199.40" x2="669.78" y2="212.30" stroke="#940a12" stroke-width="0.9" stroke-opacity="0.6"/>
<line x1="669.78" y1="225.50" x2="669.78" y2="243.80" stroke="#940a12" stroke-width="0.9" stroke-opacity="0.6"/>
<rect x="660.04" y="212.30" width="19.49" height="13.20" fill="#940a12" fill-opacity="0.5" stroke="#940a12" stroke-opacity="0.6" stroke-width="0.9"/>
<line x1="660.04" y1="220.10" x2="679.53" y2="220.10" stroke="#940a12" stroke-width="1.2" stroke-opacity="0.75"/>
<circle cx="670.28" cy="187.60" r="2.2" fill="#940a12" fill-opacity="0.5"/>
<circle cx="668.68" cy="199.40" r="2.2" fill="#940a12" fill-opacity="0.5"/>
<circle cx="670.68" cy="200.00" r="2.2" fill="#940a12" fill-opacity="0.5"/>
<circle cx="668.68" cy="209.00" r="2.2" fill="#940a12" fill-opacity="0.5"/>
<circle cx="670.68" cy="211.00" r="2.2" fill="#940a12" fill-opacity="0.5"/>
<circle cx="669.68" cy="215.00" r="2.2" fill="#940a12" fill-opacity="0.5"/>
<circle cx="667.68" cy="218.00" r="2.2" fill="#940a12" fill-opacity="0.5"/>
<circle cx="670.68" cy="220.00" r="2.2" fill="#940a12" fill-opacity="0.5"/>
<circle cx="668.68" cy="223.00" r="2.2" fill="#940a12" fill-opacity="0.5"/>
<circle cx="671.68" cy="226.00" r="2.2" fill="#940a12" fill-opacity="0.5"/>
<circle cx="669.68" cy="229.00" r="2.2" fill="#940a12" fill-opacity="0.5"/>
<circle cx="668.18" cy="236.50" r="2.2" fill="#940a12" fill-opacity="0.5"/>
<circle cx="669.68" cy="243.80" r="2.2" fill="#940a12" fill-opacity="0.5"/>
<line x1="630.80" y1="208.90" x2="684.40" y2="208.90" stroke="#f44848" stroke-width="1.3" stroke-dasharray="2.8,2.6"/>
<polyline points="645.42,184.20 645.42,182.00 669.78,182.00 669.78,184.20" fill="none" stroke="#666" stroke-width="0.9"/>
<text transform="translate(657.60 177.30)" font-size="10.0" fill="#1a1a1a" text-anchor="middle" font-weight="normal" dominant-baseline="central" stroke="#1a1a1a" stroke-width="0.25">0.043</text>
<rect x="23.00" y="281.10" width="317.00" height="18.80" fill="#e5e5e5"/>
<text transform="translate(179.90 291.10) scale(0.95 1.0)" font-size="12.1" fill="#1a1a1a" text-anchor="middle" font-weight="normal" dominant-baseline="central" stroke="#1a1a1a" stroke-width="0.25">7-transcript</text>
<rect x="25.60" y="310.40" width="104.80" height="87.90" fill="none" stroke="#b0b0b0" stroke-width="1"/>
<line x1="25.60" y1="309.90" x2="25.60" y2="398.80" stroke="#7a7a7a" stroke-width="1"/>
<line x1="25.10" y1="398.30" x2="130.90" y2="398.30" stroke="#7a7a7a" stroke-width="1"/>
<line x1="25.60" y1="398.30" x2="130.40" y2="310.40" stroke="#444" stroke-width="0.8" stroke-dasharray="1.6,2.2"/>
<clipPath id="c5"><rect x="25.60" y="310.40" width="104.80" height="87.90"/></clipPath><g clip-path="url(#c5)">
<polyline points="25.60,398.30 25.60,378.77 46.56,378.77 46.56,359.23 57.04,359.23 57.04,349.47 67.52,349.47 67.52,339.70 88.48,339.70 88.48,310.40 130.40,310.40" fill="none" stroke="#222222" stroke-width="1.3"/>
<polyline points="25.60,398.30 25.60,388.53 28.88,388.53 28.88,369.00 35.43,369.00 35.43,349.47 45.25,349.47 45.25,339.70 81.28,339.70 81.28,329.93 84.55,329.93 84.55,320.17 91.10,320.17 91.10,310.40 130.40,310.40" fill="none" stroke="#b37dff" stroke-width="1.3"/>
<polyline points="25.60,398.30 25.60,388.53 30.36,388.53 30.36,369.00 35.13,369.00 35.13,349.47 39.89,349.47 39.89,339.70 78.00,339.70 78.00,329.93 82.76,329.93 82.76,310.40 130.40,310.40" fill="none" stroke="#e0303a" stroke-width="1.3"/>
</g>
<line x1="23.60" y1="310.40" x2="25.60" y2="310.40" stroke="#5a5a5a" stroke-width="0.8"/>
<text transform="translate(23.60 310.40) scale(1.0 0.92)" font-size="10.0" fill="#454545" text-anchor="end" font-weight="normal" dominant-baseline="central" stroke="#454545" stroke-width="0.12">1</text>
<line x1="23.60" y1="354.35" x2="25.60" y2="354.35" stroke="#5a5a5a" stroke-width="0.8"/>
<text transform="translate(23.60 354.35) scale(1.0 0.92)" font-size="10.0" fill="#454545" text-anchor="end" font-weight="normal" dominant-baseline="central" stroke="#454545" stroke-width="0.12">0.5</text>
<line x1="25.60" y1="398.30" x2="25.60" y2="400.30" stroke="#5a5a5a" stroke-width="0.8"/>
<text transform="translate(25.60 404.10) scale(1.0 0.92)" font-size="10.0" fill="#454545" text-anchor="middle" font-weight="normal" dominant-baseline="central" stroke="#454545" stroke-width="0.12">0</text>
<line x1="78.00" y1="398.30" x2="78.00" y2="400.30" stroke="#5a5a5a" stroke-width="0.8"/>
<text transform="translate(78.00 404.10) scale(1.0 0.92)" font-size="10.0" fill="#454545" text-anchor="middle" font-weight="normal" dominant-baseline="central" stroke="#454545" stroke-width="0.12">0.5</text>
<line x1="130.40" y1="398.30" x2="130.40" y2="400.30" stroke="#5a5a5a" stroke-width="0.8"/>
<text transform="translate(130.40 404.10) scale(1.0 0.92)" font-size="10.0" fill="#454545" text-anchor="middle" font-weight="normal" dominant-baseline="central" stroke="#454545" stroke-width="0.12">1</text>
<text transform="translate(3.70 354.40) rotate(-90)" font-size="9.5" fill="#1a1a1a" text-anchor="middle" font-weight="normal" dominant-baseline="central" stroke="#1a1a1a" stroke-width="0.25">Sensitivity</text>
<text transform="translate(77.90 413.60) scale(0.96 1.0)" font-size="9.5" fill="#1a1a1a" text-anchor="middle" font-weight="normal" dominant-baseline="central" stroke="#1a1a1a" stroke-width="0.25">1–Specificity</text>
<text transform="translate(126.90 362.00) scale(1.03 1.0)" font-size="10.2" fill="#000" text-anchor="end" font-weight="bold" dominant-baseline="central">M-V: .68</text>
<text transform="translate(126.90 376.00) scale(1.03 1.0)" font-size="10.2" fill="#c00000" text-anchor="end" font-weight="bold" dominant-baseline="central">M-B: .78</text>
<text transform="translate(126.90 390.00) scale(1.03 1.0)" font-size="10.2" fill="#a862ff" text-anchor="end" font-weight="bold" dominant-baseline="central">M-VB: .76</text>
<rect x="154.40" y="311.00" width="53.10" height="86.20" fill="none" stroke="#b0b0b0" stroke-width="1"/>
<line x1="154.40" y1="310.50" x2="154.40" y2="397.70" stroke="#7a7a7a" stroke-width="1"/>
<line x1="153.90" y1="397.20" x2="208.00" y2="397.20" stroke="#7a7a7a" stroke-width="1"/>
<line x1="152.40" y1="346.80" x2="154.40" y2="346.80" stroke="#5a5a5a" stroke-width="0.8"/>
<text transform="translate(152.50 346.80) scale(1.0 0.92)" font-size="10.0" fill="#454545" text-anchor="end" font-weight="normal" dominant-baseline="central" stroke="#454545" stroke-width="0.12">9</text>
<line x1="152.40" y1="377.00" x2="154.40" y2="377.00" stroke="#5a5a5a" stroke-width="0.8"/>
<text transform="translate(152.50 377.00) scale(1.0 0.92)" font-size="10.0" fill="#454545" text-anchor="end" font-weight="normal" dominant-baseline="central" stroke="#454545" stroke-width="0.12">6</text>
<line x1="168.88" y1="397.20" x2="168.88" y2="399.20" stroke="#5a5a5a" stroke-width="0.8"/>
<text transform="translate(168.88 403.10) scale(1.0 0.92)" font-size="10.0" fill="#454545" text-anchor="middle" font-weight="normal" dominant-baseline="central" stroke="#454545" stroke-width="0.12">M</text>
<line x1="193.02" y1="397.20" x2="193.02" y2="399.20" stroke="#5a5a5a" stroke-width="0.8"/>
<text transform="translate(193.02 403.10) scale(1.0 0.92)" font-size="10.0" fill="#454545" text-anchor="middle" font-weight="normal" dominant-baseline="central" stroke="#454545" stroke-width="0.12">V</text>
<line x1="168.88" y1="349.70" x2="168.88" y2="353.50" stroke="#17becf" stroke-width="0.9" stroke-opacity="0.6"/>
<line x1="168.88" y1="368.30" x2="168.88" y2="373.20" stroke="#17becf" stroke-width="0.9" stroke-opacity="0.6"/>
<rect x="159.23" y="353.50" width="19.31" height="14.80" fill="#17becf" fill-opacity="0.5" stroke="#17becf" stroke-opacity="0.6" stroke-width="0.9"/>
<line x1="159.23" y1="357.20" x2="178.54" y2="357.20" stroke="#17becf" stroke-width="1.2" stroke-opacity="0.75"/>
<circle cx="168.98" cy="329.30" r="2.2" fill="#17becf" fill-opacity="0.5"/>
<circle cx="169.48" cy="349.70" r="2.2" fill="#17becf" fill-opacity="0.5"/>
<circle cx="167.98" cy="354.00" r="2.2" fill="#17becf" fill-opacity="0.5"/>
<circle cx="169.98" cy="358.00" r="2.2" fill="#17becf" fill-opacity="0.5"/>
<circle cx="169.98" cy="362.60" r="2.2" fill="#17becf" fill-opacity="0.5"/>
<circle cx="169.48" cy="369.30" r="2.2" fill="#17becf" fill-opacity="0.5"/>
<circle cx="168.98" cy="373.20" r="2.2" fill="#17becf" fill-opacity="0.5"/>
<line x1="193.02" y1="353.50" x2="193.02" y2="358.20" stroke="#bcbd22" stroke-width="0.9" stroke-opacity="0.6"/>
<line x1="193.02" y1="376.40" x2="193.02" y2="384.70" stroke="#bcbd22" stroke-width="0.9" stroke-opacity="0.6"/>
<rect x="183.36" y="358.20" width="19.31" height="18.20" fill="#bcbd22" fill-opacity="0.5" stroke="#bcbd22" stroke-opacity="0.6" stroke-width="0.9"/>
<line x1="183.36" y1="365.50" x2="202.67" y2="365.50" stroke="#bcbd22" stroke-width="1.2" stroke-opacity="0.75"/>
<circle cx="193.52" cy="353.50" r="2.2" fill="#bcbd22" fill-opacity="0.5"/>
<circle cx="192.02" cy="356.40" r="2.2" fill="#bcbd22" fill-opacity="0.5"/>
<circle cx="193.52" cy="363.90" r="2.2" fill="#bcbd22" fill-opacity="0.5"/>
<circle cx="194.52" cy="367.00" r="2.2" fill="#bcbd22" fill-opacity="0.5"/>
<circle cx="193.02" cy="371.00" r="2.2" fill="#bcbd22" fill-opacity="0.5"/>
<circle cx="192.52" cy="377.00" r="2.2" fill="#bcbd22" fill-opacity="0.5"/>
<circle cx="191.52" cy="378.90" r="2.2" fill="#bcbd22" fill-opacity="0.5"/>
<circle cx="191.22" cy="384.70" r="2.2" fill="#bcbd22" fill-opacity="0.5"/>
<line x1="154.40" y1="372.80" x2="207.50" y2="372.80" stroke="#f44848" stroke-width="1.3" stroke-dasharray="2.8,2.6"/>
<polyline points="168.88,326.50 168.88,324.30 193.02,324.30 193.02,326.50" fill="none" stroke="#666" stroke-width="0.9"/>
<text transform="translate(180.95 320.10)" font-size="10.0" fill="#1a1a1a" text-anchor="middle" font-weight="normal" dominant-baseline="central" stroke="#1a1a1a" stroke-width="0.25">0.21</text>
<text transform="translate(140.30 355.90) rotate(-90) scale(0.95 1.0)" font-size="10.3" fill="#1a1a1a" text-anchor="middle" font-weight="normal" dominant-baseline="central" stroke="#1a1a1a" stroke-width="0.25">Score</text>
<rect x="224.80" y="311.60" width="48.30" height="85.40" fill="none" stroke="#b0b0b0" stroke-width="1"/>
<line x1="224.80" y1="311.10" x2="224.80" y2="397.50" stroke="#7a7a7a" stroke-width="1"/>
<line x1="224.30" y1="397.00" x2="273.60" y2="397.00" stroke="#7a7a7a" stroke-width="1"/>
<line x1="222.80" y1="321.00" x2="224.80" y2="321.00" stroke="#5a5a5a" stroke-width="0.8"/>
<text transform="translate(222.90 321.00) scale(1.0 0.92)" font-size="10.0" fill="#454545" text-anchor="end" font-weight="normal" dominant-baseline="central" stroke="#454545" stroke-width="0.12">12</text>
<line x1="222.80" y1="347.40" x2="224.80" y2="347.40" stroke="#5a5a5a" stroke-width="0.8"/>
<text transform="translate(222.90 347.40) scale(1.0 0.92)" font-size="10.0" fill="#454545" text-anchor="end" font-weight="normal" dominant-baseline="central" stroke="#454545" stroke-width="0.12">9</text>
<line x1="222.80" y1="373.50" x2="224.80" y2="373.50" stroke="#5a5a5a" stroke-width="0.8"/>
<text transform="translate(222.90 373.50) scale(1.0 0.92)" font-size="10.0" fill="#454545" text-anchor="end" font-weight="normal" dominant-baseline="central" stroke="#454545" stroke-width="0.12">6</text>
<line x1="237.97" y1="397.00" x2="237.97" y2="399.00" stroke="#5a5a5a" stroke-width="0.8"/>
<text transform="translate(237.97 402.90) scale(1.0 0.92)" font-size="10.0" fill="#454545" text-anchor="middle" font-weight="normal" dominant-baseline="central" stroke="#454545" stroke-width="0.12">M</text>
<line x1="259.93" y1="397.00" x2="259.93" y2="399.00" stroke="#5a5a5a" stroke-width="0.8"/>
<text transform="translate(259.93 402.90) scale(1.0 0.92)" font-size="10.0" fill="#454545" text-anchor="middle" font-weight="normal" dominant-baseline="central" stroke="#454545" stroke-width="0.12">VB</text>
<line x1="237.97" y1="345.90" x2="237.97" y2="352.10" stroke="#17becf" stroke-width="0.9" stroke-opacity="0.6"/>
<line x1="237.97" y1="367.00" x2="237.97" y2="371.90" stroke="#17becf" stroke-width="0.9" stroke-opacity="0.6"/>
<rect x="229.19" y="352.10" width="17.56" height="14.90" fill="#17becf" fill-opacity="0.5" stroke="#17becf" stroke-opacity="0.6" stroke-width="0.9"/>
<line x1="229.19" y1="353.10" x2="246.75" y2="353.10" stroke="#17becf" stroke-width="1.2" stroke-opacity="0.75"/>
<circle cx="237.27" cy="329.00" r="2.2" fill="#17becf" fill-opacity="0.5"/>
<circle cx="238.97" cy="345.90" r="2.2" fill="#17becf" fill-opacity="0.5"/>
<circle cx="236.97" cy="352.00" r="2.2" fill="#17becf" fill-opacity="0.5"/>
<circle cx="237.97" cy="356.00" r="2.2" fill="#17becf" fill-opacity="0.5"/>
<circle cx="238.97" cy="362.00" r="2.2" fill="#17becf" fill-opacity="0.5"/>
<circle cx="237.47" cy="367.00" r="2.2" fill="#17becf" fill-opacity="0.5"/>
<circle cx="239.47" cy="371.90" r="2.2" fill="#17becf" fill-opacity="0.5"/>
<line x1="259.93" y1="351.00" x2="259.93" y2="361.70" stroke="#ad6eff" stroke-width="0.9" stroke-opacity="0.6"/>
<line x1="259.93" y1="375.20" x2="259.93" y2="384.80" stroke="#ad6eff" stroke-width="0.9" stroke-opacity="0.6"/>
<rect x="251.15" y="361.70" width="17.56" height="13.50" fill="#ad6eff" fill-opacity="0.5" stroke="#ad6eff" stroke-opacity="0.6" stroke-width="0.9"/>
<line x1="251.15" y1="366.00" x2="268.71" y2="366.00" stroke="#ad6eff" stroke-width="1.2" stroke-opacity="0.75"/>
<circle cx="259.63" cy="338.40" r="2.2" fill="#ad6eff" fill-opacity="0.5"/>
<circle cx="260.53" cy="351.00" r="2.2" fill="#ad6eff" fill-opacity="0.5"/>
<circle cx="261.03" cy="353.50" r="2.2" fill="#ad6eff" fill-opacity="0.5"/>
<circle cx="259.03" cy="356.00" r="2.2" fill="#ad6eff" fill-opacity="0.5"/>
<circle cx="261.53" cy="359.00" r="2.2" fill="#ad6eff" fill-opacity="0.5"/>
<circle cx="260.03" cy="362.00" r="2.2" fill="#ad6eff" fill-opacity="0.5"/>
<circle cx="258.53" cy="365.00" r="2.2" fill="#ad6eff" fill-opacity="0.5"/>
<circle cx="261.03" cy="368.00" r="2.2" fill="#ad6eff" fill-opacity="0.5"/>
<circle cx="259.53" cy="371.00" r="2.2" fill="#ad6eff" fill-opacity="0.5"/>
<circle cx="262.03" cy="374.00" r="2.2" fill="#ad6eff" fill-opacity="0.5"/>
<circle cx="260.53" cy="377.00" r="2.2" fill="#ad6eff" fill-opacity="0.5"/>
<circle cx="259.03" cy="380.00" r="2.2" fill="#ad6eff" fill-opacity="0.5"/>
<circle cx="261.03" cy="382.50" r="2.2" fill="#ad6eff" fill-opacity="0.5"/>
<circle cx="260.03" cy="384.80" r="2.2" fill="#ad6eff" fill-opacity="0.5"/>
<line x1="224.80" y1="359.20" x2="273.10" y2="359.20" stroke="#f44848" stroke-width="1.3" stroke-dasharray="2.8,2.6"/>
<polyline points="237.97,326.00 237.97,323.80 259.93,323.80 259.93,326.00" fill="none" stroke="#666" stroke-width="0.9"/>
<text transform="translate(248.95 319.30)" font-size="10.0" fill="#1a1a1a" text-anchor="middle" font-weight="normal" dominant-baseline="central" stroke="#1a1a1a" stroke-width="0.25">0.021</text>
<rect x="290.40" y="311.60" width="48.50" height="85.40" fill="none" stroke="#b0b0b0" stroke-width="1"/>
<line x1="290.40" y1="311.10" x2="290.40" y2="397.50" stroke="#7a7a7a" stroke-width="1"/>
<line x1="289.90" y1="397.00" x2="339.40" y2="397.00" stroke="#7a7a7a" stroke-width="1"/>
<line x1="288.40" y1="321.40" x2="290.40" y2="321.40" stroke="#5a5a5a" stroke-width="0.8"/>
<text transform="translate(288.50 321.40) scale(1.0 0.92)" font-size="10.0" fill="#454545" text-anchor="end" font-weight="normal" dominant-baseline="central" stroke="#454545" stroke-width="0.12">12</text>
<line x1="288.40" y1="347.00" x2="290.40" y2="347.00" stroke="#5a5a5a" stroke-width="0.8"/>
<text transform="translate(288.50 347.00) scale(1.0 0.92)" font-size="10.0" fill="#454545" text-anchor="end" font-weight="normal" dominant-baseline="central" stroke="#454545" stroke-width="0.12">9</text>
<line x1="288.40" y1="372.50" x2="290.40" y2="372.50" stroke="#5a5a5a" stroke-width="0.8"/>
<text transform="translate(288.50 372.50) scale(1.0 0.92)" font-size="10.0" fill="#454545" text-anchor="end" font-weight="normal" dominant-baseline="central" stroke="#454545" stroke-width="0.12">6</text>
<line x1="303.63" y1="397.00" x2="303.63" y2="399.00" stroke="#5a5a5a" stroke-width="0.8"/>
<text transform="translate(303.63 402.90) scale(1.0 0.92)" font-size="10.0" fill="#454545" text-anchor="middle" font-weight="normal" dominant-baseline="central" stroke="#454545" stroke-width="0.12">M</text>
<line x1="325.67" y1="397.00" x2="325.67" y2="399.00" stroke="#5a5a5a" stroke-width="0.8"/>
<text transform="translate(325.67 402.90) scale(1.0 0.92)" font-size="10.0" fill="#454545" text-anchor="middle" font-weight="normal" dominant-baseline="central" stroke="#454545" stroke-width="0.12">B</text>
<line x1="303.63" y1="345.90" x2="303.63" y2="353.10" stroke="#17becf" stroke-width="0.9" stroke-opacity="0.6"/>
<line x1="303.63" y1="367.80" x2="303.63" y2="371.50" stroke="#17becf" stroke-width="0.9" stroke-opacity="0.6"/>
<rect x="294.81" y="353.10" width="17.64" height="14.70" fill="#17becf" fill-opacity="0.5" stroke="#17becf" stroke-opacity="0.6" stroke-width="0.9"/>
<line x1="294.81" y1="354.70" x2="312.45" y2="354.70" stroke="#17becf" stroke-width="1.2" stroke-opacity="0.75"/>
<circle cx="304.73" cy="329.00" r="2.2" fill="#17becf" fill-opacity="0.5"/>
<circle cx="304.53" cy="345.90" r="2.2" fill="#17becf" fill-opacity="0.5"/>
<circle cx="303.03" cy="352.00" r="2.2" fill="#17becf" fill-opacity="0.5"/>
<circle cx="304.03" cy="355.00" r="2.2" fill="#17becf" fill-opacity="0.5"/>
<circle cx="303.03" cy="360.00" r="2.2" fill="#17becf" fill-opacity="0.5"/>
<circle cx="304.53" cy="366.00" r="2.2" fill="#17becf" fill-opacity="0.5"/>
<circle cx="303.53" cy="371.50" r="2.2" fill="#17becf" fill-opacity="0.5"/>
<line x1="325.67" y1="353.10" x2="325.67" y2="362.90" stroke="#940a12" stroke-width="0.9" stroke-opacity="0.6"/>
<line x1="325.67" y1="377.60" x2="325.67" y2="385.20" stroke="#940a12" stroke-width="0.9" stroke-opacity="0.6"/>
<rect x="316.85" y="362.90" width="17.64" height="14.70" fill="#940a12" fill-opacity="0.5" stroke="#940a12" stroke-opacity="0.6" stroke-width="0.9"/>
<line x1="316.85" y1="368.00" x2="334.49" y2="368.00" stroke="#940a12" stroke-width="1.2" stroke-opacity="0.75"/>
<circle cx="325.57" cy="338.80" r="2.2" fill="#940a12" fill-opacity="0.5"/>
<circle cx="324.97" cy="353.10" r="2.2" fill="#940a12" fill-opacity="0.5"/>
<circle cx="326.97" cy="356.00" r="2.2" fill="#940a12" fill-opacity="0.5"/>
<circle cx="324.97" cy="360.00" r="2.2" fill="#940a12" fill-opacity="0.5"/>
<circle cx="325.97" cy="362.00" r="2.2" fill="#940a12" fill-opacity="0.5"/>
<circle cx="323.97" cy="365.00" r="2.2" fill="#940a12" fill-opacity="0.5"/>
<circle cx="326.97" cy="368.00" r="2.2" fill="#940a12" fill-opacity="0.5"/>
<circle cx="324.97" cy="371.00" r="2.2" fill="#940a12" fill-opacity="0.5"/>
<circle cx="325.97" cy="374.00" r="2.2" fill="#940a12" fill-opacity="0.5"/>
<circle cx="324.47" cy="377.00" r="2.2" fill="#940a12" fill-opacity="0.5"/>
<circle cx="325.97" cy="380.00" r="2.2" fill="#940a12" fill-opacity="0.5"/>
<circle cx="324.97" cy="385.20" r="2.2" fill="#940a12" fill-opacity="0.5"/>
<line x1="290.40" y1="358.20" x2="338.90" y2="358.20" stroke="#f44848" stroke-width="1.3" stroke-dasharray="2.8,2.6"/>
<polyline points="303.63,326.00 303.63,323.80 325.67,323.80 325.67,326.00" fill="none" stroke="#666" stroke-width="0.9"/>
<text transform="translate(314.65 319.30)" font-size="10.0" fill="#1a1a1a" text-anchor="middle" font-weight="normal" dominant-baseline="central" stroke="#1a1a1a" stroke-width="0.25">0.018</text>
<rect x="368.00" y="280.90" width="317.00" height="19.90" fill="#e5e5e5"/>
<text transform="translate(524.90 291.45) scale(0.95 1.0)" font-size="12.1" fill="#1a1a1a" text-anchor="middle" font-weight="normal" dominant-baseline="central" stroke="#1a1a1a" stroke-width="0.25">8-transcript</text>
<rect x="371.30" y="310.50" width="104.10" height="88.00" fill="none" stroke="#b0b0b0" stroke-width="1"/>
<line x1="371.30" y1="310.00" x2="371.30" y2="399.00" stroke="#7a7a7a" stroke-width="1"/>
<line x1="370.80" y1="398.50" x2="475.90" y2="398.50" stroke="#7a7a7a" stroke-width="1"/>
<line x1="371.30" y1="398.50" x2="475.40" y2="310.50" stroke="#444" stroke-width="0.8" stroke-dasharray="1.6,2.2"/>
<clipPath id="c6"><rect x="371.30" y="310.50" width="104.10" height="88.00"/></clipPath><g clip-path="url(#c6)">
<polyline points="371.30,398.50 371.30,339.83 392.12,339.83 392.12,320.28 412.94,320.28 412.94,310.50 475.40,310.50" fill="none" stroke="#222222" stroke-width="1.3"/>
<polyline points="371.30,398.50 374.55,398.50 374.55,359.39 381.06,359.39 381.06,349.61 390.82,349.61 390.82,339.83 400.58,339.83 400.58,330.06 407.08,330.06 407.08,320.28 416.84,320.28 416.84,310.50 475.40,310.50" fill="none" stroke="#b37dff" stroke-width="1.3"/>
<polyline points="371.30,398.50 376.03,398.50 376.03,369.17 380.76,369.17 380.76,359.39 385.50,359.39 385.50,349.61 399.69,349.61 399.69,330.06 404.42,330.06 404.42,320.28 418.62,320.28 418.62,310.50 475.40,310.50" fill="none" stroke="#e0303a" stroke-width="1.3"/>
</g>
<line x1="369.30" y1="310.50" x2="371.30" y2="310.50" stroke="#5a5a5a" stroke-width="0.8"/>
<text transform="translate(369.30 310.50) scale(1.0 0.92)" font-size="10.0" fill="#454545" text-anchor="end" font-weight="normal" dominant-baseline="central" stroke="#454545" stroke-width="0.12">1</text>
<line x1="369.30" y1="354.50" x2="371.30" y2="354.50" stroke="#5a5a5a" stroke-width="0.8"/>
<text transform="translate(369.30 354.50) scale(1.0 0.92)" font-size="10.0" fill="#454545" text-anchor="end" font-weight="normal" dominant-baseline="central" stroke="#454545" stroke-width="0.12">0.5</text>
<line x1="371.30" y1="398.50" x2="371.30" y2="400.50" stroke="#5a5a5a" stroke-width="0.8"/>
<text transform="translate(371.30 404.30) scale(1.0 0.92)" font-size="10.0" fill="#454545" text-anchor="middle" font-weight="normal" dominant-baseline="central" stroke="#454545" stroke-width="0.12">0</text>
<line x1="423.35" y1="398.50" x2="423.35" y2="400.50" stroke="#5a5a5a" stroke-width="0.8"/>
<text transform="translate(423.35 404.30) scale(1.0 0.92)" font-size="10.0" fill="#454545" text-anchor="middle" font-weight="normal" dominant-baseline="central" stroke="#454545" stroke-width="0.12">0.5</text>
<line x1="475.40" y1="398.50" x2="475.40" y2="400.50" stroke="#5a5a5a" stroke-width="0.8"/>
<text transform="translate(475.40 404.30) scale(1.0 0.92)" font-size="10.0" fill="#454545" text-anchor="middle" font-weight="normal" dominant-baseline="central" stroke="#454545" stroke-width="0.12">1</text>
<text transform="translate(349.40 354.50) rotate(-90)" font-size="9.5" fill="#1a1a1a" text-anchor="middle" font-weight="normal" dominant-baseline="central" stroke="#1a1a1a" stroke-width="0.25">Sensitivity</text>
<text transform="translate(423.60 413.80) scale(0.96 1.0)" font-size="9.5" fill="#1a1a1a" text-anchor="middle" font-weight="normal" dominant-baseline="central" stroke="#1a1a1a" stroke-width="0.25">1–Specificity</text>
<text transform="translate(472.00 362.50) scale(1.03 1.0)" font-size="10.2" fill="#000" text-anchor="end" font-weight="bold" dominant-baseline="central">M-V: .91</text>
<text transform="translate(472.00 376.50) scale(1.03 1.0)" font-size="10.2" fill="#c00000" text-anchor="end" font-weight="bold" dominant-baseline="central">M-B: .81</text>
<text transform="translate(472.00 390.50) scale(1.03 1.0)" font-size="10.2" fill="#a862ff" text-anchor="end" font-weight="bold" dominant-baseline="central">M-VB: .84</text>
<rect x="503.50" y="311.00" width="48.00" height="86.20" fill="none" stroke="#b0b0b0" stroke-width="1"/>
<line x1="503.50" y1="310.50" x2="503.50" y2="397.70" stroke="#7a7a7a" stroke-width="1"/>
<line x1="503.00" y1="397.20" x2="552.00" y2="397.20" stroke="#7a7a7a" stroke-width="1"/>
<line x1="501.50" y1="328.90" x2="503.50" y2="328.90" stroke="#5a5a5a" stroke-width="0.8"/>
<text transform="translate(501.60 328.90) scale(1.0 0.92)" font-size="10.0" fill="#454545" text-anchor="end" font-weight="normal" dominant-baseline="central" stroke="#454545" stroke-width="0.12">12</text>
<line x1="501.50" y1="354.30" x2="503.50" y2="354.30" stroke="#5a5a5a" stroke-width="0.8"/>
<text transform="translate(501.60 354.30) scale(1.0 0.92)" font-size="10.0" fill="#454545" text-anchor="end" font-weight="normal" dominant-baseline="central" stroke="#454545" stroke-width="0.12">9</text>
<line x1="501.50" y1="379.50" x2="503.50" y2="379.50" stroke="#5a5a5a" stroke-width="0.8"/>
<text transform="translate(501.60 379.50) scale(1.0 0.92)" font-size="10.0" fill="#454545" text-anchor="end" font-weight="normal" dominant-baseline="central" stroke="#454545" stroke-width="0.12">6</text>
<line x1="516.59" y1="397.20" x2="516.59" y2="399.20" stroke="#5a5a5a" stroke-width="0.8"/>
<text transform="translate(516.59 403.10) scale(1.0 0.92)" font-size="10.0" fill="#454545" text-anchor="middle" font-weight="normal" dominant-baseline="central" stroke="#454545" stroke-width="0.12">M</text>
<line x1="538.41" y1="397.20" x2="538.41" y2="399.20" stroke="#5a5a5a" stroke-width="0.8"/>
<text transform="translate(538.41 403.10) scale(1.0 0.92)" font-size="10.0" fill="#454545" text-anchor="middle" font-weight="normal" dominant-baseline="central" stroke="#454545" stroke-width="0.12">V</text>
<line x1="516.59" y1="328.90" x2="516.59" y2="343.90" stroke="#17becf" stroke-width="0.9" stroke-opacity="0.6"/>
<line x1="516.59" y1="355.50" x2="516.59" y2="363.90" stroke="#17becf" stroke-width="0.9" stroke-opacity="0.6"/>
<rect x="507.86" y="343.90" width="17.45" height="11.60" fill="#17becf" fill-opacity="0.5" stroke="#17becf" stroke-opacity="0.6" stroke-width="0.9"/>
<line x1="507.86" y1="352.00" x2="525.32" y2="352.00" stroke="#17becf" stroke-width="1.2" stroke-opacity="0.75"/>
<circle cx="517.69" cy="328.90" r="2.2" fill="#17becf" fill-opacity="0.5"/>
<circle cx="517.49" cy="338.50" r="2.2" fill="#17becf" fill-opacity="0.5"/>
<circle cx="516.99" cy="344.00" r="2.2" fill="#17becf" fill-opacity="0.5"/>
<circle cx="517.49" cy="352.00" r="2.2" fill="#17becf" fill-opacity="0.5"/>
<circle cx="515.99" cy="356.00" r="2.2" fill="#17becf" fill-opacity="0.5"/>
<circle cx="515.49" cy="354.90" r="2.2" fill="#17becf" fill-opacity="0.5"/>
<circle cx="516.99" cy="363.90" r="2.2" fill="#17becf" fill-opacity="0.5"/>
<line x1="538.41" y1="353.30" x2="538.41" y2="357.80" stroke="#bcbd22" stroke-width="0.9" stroke-opacity="0.6"/>
<line x1="538.41" y1="377.60" x2="538.41" y2="384.70" stroke="#bcbd22" stroke-width="0.9" stroke-opacity="0.6"/>
<rect x="529.68" y="357.80" width="17.45" height="19.80" fill="#bcbd22" fill-opacity="0.5" stroke="#bcbd22" stroke-opacity="0.6" stroke-width="0.9"/>
<line x1="529.68" y1="370.30" x2="547.14" y2="370.30" stroke="#bcbd22" stroke-width="1.2" stroke-opacity="0.75"/>
<circle cx="539.41" cy="353.30" r="2.2" fill="#bcbd22" fill-opacity="0.5"/>
<circle cx="538.51" cy="359.00" r="2.2" fill="#bcbd22" fill-opacity="0.5"/>
<circle cx="537.51" cy="369.30" r="2.2" fill="#bcbd22" fill-opacity="0.5"/>
<circle cx="538.01" cy="376.60" r="2.2" fill="#bcbd22" fill-opacity="0.5"/>
<circle cx="539.01" cy="377.60" r="2.2" fill="#bcbd22" fill-opacity="0.5"/>
<circle cx="537.51" cy="384.70" r="2.2" fill="#bcbd22" fill-opacity="0.5"/>
<line x1="503.50" y1="356.80" x2="551.50" y2="356.80" stroke="#f44848" stroke-width="1.3" stroke-dasharray="2.8,2.6"/>
<polyline points="516.59,325.70 516.59,323.50 538.41,323.50 538.41,325.70" fill="none" stroke="#666" stroke-width="0.9"/>
<text transform="translate(527.50 318.80)" font-size="10.0" fill="#1a1a1a" text-anchor="middle" font-weight="normal" dominant-baseline="central" stroke="#1a1a1a" stroke-width="0.25">0.0029</text>
<text transform="translate(483.40 356.20) rotate(-90) scale(0.95 1.0)" font-size="10.3" fill="#1a1a1a" text-anchor="middle" font-weight="normal" dominant-baseline="central" stroke="#1a1a1a" stroke-width="0.25">Score</text>
<rect x="569.10" y="311.30" width="48.30" height="85.90" fill="none" stroke="#b0b0b0" stroke-width="1"/>
<line x1="569.10" y1="310.80" x2="569.10" y2="397.70" stroke="#7a7a7a" stroke-width="1"/>
<line x1="568.60" y1="397.20" x2="617.90" y2="397.20" stroke="#7a7a7a" stroke-width="1"/>
<line x1="567.10" y1="338.10" x2="569.10" y2="338.10" stroke="#5a5a5a" stroke-width="0.8"/>
<text transform="translate(567.20 338.10) scale(1.0 0.92)" font-size="10.0" fill="#454545" text-anchor="end" font-weight="normal" dominant-baseline="central" stroke="#454545" stroke-width="0.12">12</text>
<line x1="567.10" y1="358.60" x2="569.10" y2="358.60" stroke="#5a5a5a" stroke-width="0.8"/>
<text transform="translate(567.20 358.60) scale(1.0 0.92)" font-size="10.0" fill="#454545" text-anchor="end" font-weight="normal" dominant-baseline="central" stroke="#454545" stroke-width="0.12">9</text>
<line x1="567.10" y1="378.90" x2="569.10" y2="378.90" stroke="#5a5a5a" stroke-width="0.8"/>
<text transform="translate(567.20 378.90) scale(1.0 0.92)" font-size="10.0" fill="#454545" text-anchor="end" font-weight="normal" dominant-baseline="central" stroke="#454545" stroke-width="0.12">6</text>
<line x1="582.27" y1="397.20" x2="582.27" y2="399.20" stroke="#5a5a5a" stroke-width="0.8"/>
<text transform="translate(582.27 403.10) scale(1.0 0.92)" font-size="10.0" fill="#454545" text-anchor="middle" font-weight="normal" dominant-baseline="central" stroke="#454545" stroke-width="0.12">M</text>
<line x1="604.23" y1="397.20" x2="604.23" y2="399.20" stroke="#5a5a5a" stroke-width="0.8"/>
<text transform="translate(604.23 403.10) scale(1.0 0.92)" font-size="10.0" fill="#454545" text-anchor="middle" font-weight="normal" dominant-baseline="central" stroke="#454545" stroke-width="0.12">VB</text>
<line x1="582.27" y1="333.50" x2="582.27" y2="341.40" stroke="#17becf" stroke-width="0.9" stroke-opacity="0.6"/>
<line x1="582.27" y1="355.20" x2="582.27" y2="364.70" stroke="#17becf" stroke-width="0.9" stroke-opacity="0.6"/>
<rect x="573.49" y="341.40" width="17.56" height="13.80" fill="#17becf" fill-opacity="0.5" stroke="#17becf" stroke-opacity="0.6" stroke-width="0.9"/>
<line x1="573.49" y1="348.30" x2="591.05" y2="348.30" stroke="#17becf" stroke-width="1.2" stroke-opacity="0.75"/>
<circle cx="582.07" cy="333.50" r="2.2" fill="#17becf" fill-opacity="0.5"/>
<circle cx="582.97" cy="339.00" r="2.2" fill="#17becf" fill-opacity="0.5"/>
<circle cx="581.47" cy="345.00" r="2.2" fill="#17becf" fill-opacity="0.5"/>
<circle cx="582.47" cy="350.00" r="2.2" fill="#17becf" fill-opacity="0.5"/>
<circle cx="580.97" cy="353.60" r="2.2" fill="#17becf" fill-opacity="0.5"/>
<circle cx="582.97" cy="358.20" r="2.2" fill="#17becf" fill-opacity="0.5"/>
<circle cx="581.47" cy="364.70" r="2.2" fill="#17becf" fill-opacity="0.5"/>
<line x1="604.23" y1="344.40" x2="604.23" y2="355.20" stroke="#ad6eff" stroke-width="0.9" stroke-opacity="0.6"/>
<line x1="604.23" y1="370.60" x2="604.23" y2="384.80" stroke="#ad6eff" stroke-width="0.9" stroke-opacity="0.6"/>
<rect x="595.45" y="355.20" width="17.56" height="15.40" fill="#ad6eff" fill-opacity="0.5" stroke="#ad6eff" stroke-opacity="0.6" stroke-width="0.9"/>
<line x1="595.45" y1="364.70" x2="613.01" y2="364.70" stroke="#ad6eff" stroke-width="1.2" stroke-opacity="0.75"/>
<circle cx="604.63" cy="329.00" r="2.2" fill="#ad6eff" fill-opacity="0.5"/>
<circle cx="603.03" cy="344.40" r="2.2" fill="#ad6eff" fill-opacity="0.5"/>
<circle cx="605.03" cy="346.00" r="2.2" fill="#ad6eff" fill-opacity="0.5"/>
<circle cx="603.53" cy="350.00" r="2.2" fill="#ad6eff" fill-opacity="0.5"/>
<circle cx="605.03" cy="353.00" r="2.2" fill="#ad6eff" fill-opacity="0.5"/>
<circle cx="603.03" cy="356.00" r="2.2" fill="#ad6eff" fill-opacity="0.5"/>
<circle cx="605.03" cy="359.00" r="2.2" fill="#ad6eff" fill-opacity="0.5"/>
<circle cx="602.53" cy="362.00" r="2.2" fill="#ad6eff" fill-opacity="0.5"/>
<circle cx="604.53" cy="365.00" r="2.2" fill="#ad6eff" fill-opacity="0.5"/>
<circle cx="603.03" cy="368.00" r="2.2" fill="#ad6eff" fill-opacity="0.5"/>
<circle cx="605.03" cy="371.00" r="2.2" fill="#ad6eff" fill-opacity="0.5"/>
<circle cx="603.53" cy="374.00" r="2.2" fill="#ad6eff" fill-opacity="0.5"/>
<circle cx="602.53" cy="379.80" r="2.2" fill="#ad6eff" fill-opacity="0.5"/>
<circle cx="604.03" cy="381.80" r="2.2" fill="#ad6eff" fill-opacity="0.5"/>
<circle cx="603.53" cy="384.80" r="2.2" fill="#ad6eff" fill-opacity="0.5"/>
<line x1="569.10" y1="364.50" x2="617.40" y2="364.50" stroke="#f44848" stroke-width="1.3" stroke-dasharray="2.8,2.6"/>
<polyline points="582.27,326.20 582.27,324.00 604.23,324.00 604.23,326.20" fill="none" stroke="#666" stroke-width="0.9"/>
<text transform="translate(593.25 319.20)" font-size="10.0" fill="#1a1a1a" text-anchor="middle" font-weight="normal" dominant-baseline="central" stroke="#1a1a1a" stroke-width="0.25">0.0024</text>
<rect x="634.70" y="311.30" width="47.70" height="85.90" fill="none" stroke="#b0b0b0" stroke-width="1"/>
<line x1="634.70" y1="310.80" x2="634.70" y2="397.70" stroke="#7a7a7a" stroke-width="1"/>
<line x1="634.20" y1="397.20" x2="682.90" y2="397.20" stroke="#7a7a7a" stroke-width="1"/>
<line x1="632.70" y1="337.50" x2="634.70" y2="337.50" stroke="#5a5a5a" stroke-width="0.8"/>
<text transform="translate(632.80 337.50) scale(1.0 0.92)" font-size="10.0" fill="#454545" text-anchor="end" font-weight="normal" dominant-baseline="central" stroke="#454545" stroke-width="0.12">12</text>
<line x1="632.70" y1="357.60" x2="634.70" y2="357.60" stroke="#5a5a5a" stroke-width="0.8"/>
<text transform="translate(632.80 357.60) scale(1.0 0.92)" font-size="10.0" fill="#454545" text-anchor="end" font-weight="normal" dominant-baseline="central" stroke="#454545" stroke-width="0.12">9</text>
<line x1="632.70" y1="377.30" x2="634.70" y2="377.30" stroke="#5a5a5a" stroke-width="0.8"/>
<text transform="translate(632.80 377.30) scale(1.0 0.92)" font-size="10.0" fill="#454545" text-anchor="end" font-weight="normal" dominant-baseline="central" stroke="#454545" stroke-width="0.12">6</text>
<line x1="632.70" y1="397.20" x2="634.70" y2="397.20" stroke="#5a5a5a" stroke-width="0.8"/>
<text transform="translate(632.80 397.20) scale(1.0 0.92)" font-size="10.0" fill="#454545" text-anchor="end" font-weight="normal" dominant-baseline="central" stroke="#454545" stroke-width="0.12">3</text>
<line x1="647.71" y1="397.20" x2="647.71" y2="399.20" stroke="#5a5a5a" stroke-width="0.8"/>
<text transform="translate(647.71 403.10) scale(1.0 0.92)" font-size="10.0" fill="#454545" text-anchor="middle" font-weight="normal" dominant-baseline="central" stroke="#454545" stroke-width="0.12">M</text>
<line x1="669.39" y1="397.20" x2="669.39" y2="399.20" stroke="#5a5a5a" stroke-width="0.8"/>
<text transform="translate(669.39 403.10) scale(1.0 0.92)" font-size="10.0" fill="#454545" text-anchor="middle" font-weight="normal" dominant-baseline="central" stroke="#454545" stroke-width="0.12">B</text>
<line x1="647.71" y1="333.50" x2="647.71" y2="343.40" stroke="#17becf" stroke-width="0.9" stroke-opacity="0.6"/>
<line x1="647.71" y1="356.20" x2="647.71" y2="363.70" stroke="#17becf" stroke-width="0.9" stroke-opacity="0.6"/>
<rect x="639.04" y="343.40" width="17.35" height="12.80" fill="#17becf" fill-opacity="0.5" stroke="#17becf" stroke-opacity="0.6" stroke-width="0.9"/>
<line x1="639.04" y1="348.90" x2="656.38" y2="348.90" stroke="#17becf" stroke-width="1.2" stroke-opacity="0.75"/>
<circle cx="647.01" cy="333.50" r="2.2" fill="#17becf" fill-opacity="0.5"/>
<circle cx="648.01" cy="343.40" r="2.2" fill="#17becf" fill-opacity="0.5"/>
<circle cx="647.01" cy="348.00" r="2.2" fill="#17becf" fill-opacity="0.5"/>
<circle cx="648.01" cy="352.00" r="2.2" fill="#17becf" fill-opacity="0.5"/>
<circle cx="646.01" cy="355.20" r="2.2" fill="#17becf" fill-opacity="0.5"/>
<circle cx="647.51" cy="363.70" r="2.2" fill="#17becf" fill-opacity="0.5"/>
<line x1="669.39" y1="345.00" x2="669.39" y2="355.20" stroke="#940a12" stroke-width="0.9" stroke-opacity="0.6"/>
<line x1="669.39" y1="370.60" x2="669.39" y2="383.80" stroke="#940a12" stroke-width="0.9" stroke-opacity="0.6"/>
<rect x="660.72" y="355.20" width="17.35" height="15.40" fill="#940a12" fill-opacity="0.5" stroke="#940a12" stroke-opacity="0.6" stroke-width="0.9"/>
<line x1="660.72" y1="365.50" x2="678.06" y2="365.50" stroke="#940a12" stroke-width="1.2" stroke-opacity="0.75"/>
<circle cx="667.89" cy="329.00" r="2.2" fill="#940a12" fill-opacity="0.5"/>
<circle cx="668.99" cy="345.00" r="2.2" fill="#940a12" fill-opacity="0.5"/>
<circle cx="669.99" cy="347.00" r="2.2" fill="#940a12" fill-opacity="0.5"/>
<circle cx="667.99" cy="352.00" r="2.2" fill="#940a12" fill-opacity="0.5"/>
<circle cx="669.99" cy="355.00" r="2.2" fill="#940a12" fill-opacity="0.5"/>
<circle cx="667.99" cy="358.00" r="2.2" fill="#940a12" fill-opacity="0.5"/>
<circle cx="670.49" cy="361.00" r="2.2" fill="#940a12" fill-opacity="0.5"/>
<circle cx="667.99" cy="365.50" r="2.2" fill="#940a12" fill-opacity="0.5"/>
<circle cx="669.99" cy="368.00" r="2.2" fill="#940a12" fill-opacity="0.5"/>
<circle cx="667.49" cy="371.00" r="2.2" fill="#940a12" fill-opacity="0.5"/>
<circle cx="668.99" cy="374.00" r="2.2" fill="#940a12" fill-opacity="0.5"/>
<circle cx="668.49" cy="377.00" r="2.2" fill="#940a12" fill-opacity="0.5"/>
<circle cx="669.99" cy="383.20" r="2.2" fill="#940a12" fill-opacity="0.5"/>
<circle cx="666.49" cy="383.80" r="2.2" fill="#940a12" fill-opacity="0.5"/>
<line x1="634.70" y1="357.60" x2="682.40" y2="357.60" stroke="#f44848" stroke-width="1.3" stroke-dasharray="2.8,2.6"/>
<polyline points="647.71,326.20 647.71,324.00 669.39,324.00 669.39,326.20" fill="none" stroke="#666" stroke-width="0.9"/>
<text transform="translate(658.55 319.20)" font-size="10.0" fill="#1a1a1a" text-anchor="middle" font-weight="normal" dominant-baseline="central" stroke="#1a1a1a" stroke-width="0.25">0.0074</text>
<rect x="23.00" y="423.00" width="317.00" height="19.70" fill="#e5e5e5"/>
<text transform="translate(179.90 433.45) scale(0.95 1.0)" font-size="12.1" fill="#1a1a1a" text-anchor="middle" font-weight="normal" dominant-baseline="central" stroke="#1a1a1a" stroke-width="0.25">9-transcript</text>
<rect x="25.40" y="451.50" width="105.00" height="87.90" fill="none" stroke="#b0b0b0" stroke-width="1"/>
<line x1="25.40" y1="451.00" x2="25.40" y2="539.90" stroke="#7a7a7a" stroke-width="1"/>
<line x1="24.90" y1="539.40" x2="130.90" y2="539.40" stroke="#7a7a7a" stroke-width="1"/>
<line x1="25.40" y1="539.40" x2="130.40" y2="451.50" stroke="#444" stroke-width="0.8" stroke-dasharray="1.6,2.2"/>
<clipPath id="c7"><rect x="25.40" y="451.50" width="105.00" height="87.90"/></clipPath><g clip-path="url(#c7)">
<polyline points="25.40,539.40 25.40,451.50 130.40,451.50" fill="none" stroke="#222222" stroke-width="1.3"/>
<polyline points="25.40,539.40 25.40,529.63 28.68,529.63 28.68,510.10 31.96,510.10 31.96,490.57 38.52,490.57 38.52,480.80 45.09,480.80 45.09,461.27 58.21,461.27 58.21,451.50 130.40,451.50" fill="none" stroke="#b37dff" stroke-width="1.3"/>
<polyline points="25.40,539.40 25.40,529.63 30.17,529.63 30.17,519.87 34.95,519.87 34.95,510.10 39.72,510.10 39.72,480.80 54.04,480.80 54.04,461.27 73.13,461.27 73.13,451.50 130.40,451.50" fill="none" stroke="#e0303a" stroke-width="1.3"/>
</g>
<line x1="23.40" y1="451.50" x2="25.40" y2="451.50" stroke="#5a5a5a" stroke-width="0.8"/>
<text transform="translate(23.40 451.50) scale(1.0 0.92)" font-size="10.0" fill="#454545" text-anchor="end" font-weight="normal" dominant-baseline="central" stroke="#454545" stroke-width="0.12">1</text>
<line x1="23.40" y1="495.45" x2="25.40" y2="495.45" stroke="#5a5a5a" stroke-width="0.8"/>
<text transform="translate(23.40 495.45) scale(1.0 0.92)" font-size="10.0" fill="#454545" text-anchor="end" font-weight="normal" dominant-baseline="central" stroke="#454545" stroke-width="0.12">0.5</text>
<line x1="25.40" y1="539.40" x2="25.40" y2="541.40" stroke="#5a5a5a" stroke-width="0.8"/>
<text transform="translate(25.40 545.20) scale(1.0 0.92)" font-size="10.0" fill="#454545" text-anchor="middle" font-weight="normal" dominant-baseline="central" stroke="#454545" stroke-width="0.12">0</text>
<line x1="77.90" y1="539.40" x2="77.90" y2="541.40" stroke="#5a5a5a" stroke-width="0.8"/>
<text transform="translate(77.90 545.20) scale(1.0 0.92)" font-size="10.0" fill="#454545" text-anchor="middle" font-weight="normal" dominant-baseline="central" stroke="#454545" stroke-width="0.12">0.5</text>
<line x1="130.40" y1="539.40" x2="130.40" y2="541.40" stroke="#5a5a5a" stroke-width="0.8"/>
<text transform="translate(130.40 545.20) scale(1.0 0.92)" font-size="10.0" fill="#454545" text-anchor="middle" font-weight="normal" dominant-baseline="central" stroke="#454545" stroke-width="0.12">1</text>
<text transform="translate(3.50 495.50) rotate(-90)" font-size="9.5" fill="#1a1a1a" text-anchor="middle" font-weight="normal" dominant-baseline="central" stroke="#1a1a1a" stroke-width="0.25">Sensitivity</text>
<text transform="translate(77.70 554.70) scale(0.96 1.0)" font-size="9.5" fill="#1a1a1a" text-anchor="middle" font-weight="normal" dominant-baseline="central" stroke="#1a1a1a" stroke-width="0.25">1–Specificity</text>
<text transform="translate(126.90 501.50) scale(1.03 1.0)" font-size="10.2" fill="#000" text-anchor="end" font-weight="bold" dominant-baseline="central">M-V: 1</text>
<text transform="translate(126.90 515.50) scale(1.03 1.0)" font-size="10.2" fill="#c00000" text-anchor="end" font-weight="bold" dominant-baseline="central">M-B: .83</text>
<text transform="translate(126.90 529.50) scale(1.03 1.0)" font-size="10.2" fill="#a862ff" text-anchor="end" font-weight="bold" dominant-baseline="central">M-VB: .89</text>
<rect x="154.40" y="452.00" width="53.10" height="86.20" fill="none" stroke="#b0b0b0" stroke-width="1"/>
<line x1="154.40" y1="451.50" x2="154.40" y2="538.70" stroke="#7a7a7a" stroke-width="1"/>
<line x1="153.90" y1="538.20" x2="208.00" y2="538.20" stroke="#7a7a7a" stroke-width="1"/>
<line x1="152.40" y1="487.20" x2="154.40" y2="487.20" stroke="#5a5a5a" stroke-width="0.8"/>
<text transform="translate(152.50 487.20) scale(1.0 0.92)" font-size="10.0" fill="#454545" text-anchor="end" font-weight="normal" dominant-baseline="central" stroke="#454545" stroke-width="0.12">6</text>
<line x1="152.40" y1="513.80" x2="154.40" y2="513.80" stroke="#5a5a5a" stroke-width="0.8"/>
<text transform="translate(152.50 513.80) scale(1.0 0.92)" font-size="10.0" fill="#454545" text-anchor="end" font-weight="normal" dominant-baseline="central" stroke="#454545" stroke-width="0.12">3</text>
<line x1="168.88" y1="538.20" x2="168.88" y2="540.20" stroke="#5a5a5a" stroke-width="0.8"/>
<text transform="translate(168.88 544.10) scale(1.0 0.92)" font-size="10.0" fill="#454545" text-anchor="middle" font-weight="normal" dominant-baseline="central" stroke="#454545" stroke-width="0.12">M</text>
<line x1="193.02" y1="538.20" x2="193.02" y2="540.20" stroke="#5a5a5a" stroke-width="0.8"/>
<text transform="translate(193.02 544.10) scale(1.0 0.92)" font-size="10.0" fill="#454545" text-anchor="middle" font-weight="normal" dominant-baseline="central" stroke="#454545" stroke-width="0.12">V</text>
<line x1="168.88" y1="470.50" x2="168.88" y2="481.50" stroke="#17becf" stroke-width="0.9" stroke-opacity="0.6"/>
<line x1="168.88" y1="496.50" x2="168.88" y2="500.70" stroke="#17becf" stroke-width="0.9" stroke-opacity="0.6"/>
<rect x="159.23" y="481.50" width="19.31" height="15.00" fill="#17becf" fill-opacity="0.5" stroke="#17becf" stroke-opacity="0.6" stroke-width="0.9"/>
<line x1="159.23" y1="491.10" x2="178.54" y2="491.10" stroke="#17becf" stroke-width="1.2" stroke-opacity="0.75"/>
<circle cx="166.88" cy="470.50" r="2.2" fill="#17becf" fill-opacity="0.5"/>
<circle cx="167.98" cy="480.50" r="2.2" fill="#17becf" fill-opacity="0.5"/>
<circle cx="169.98" cy="482.00" r="2.2" fill="#17becf" fill-opacity="0.5"/>
<circle cx="168.98" cy="490.50" r="2.2" fill="#17becf" fill-opacity="0.5"/>
<circle cx="167.98" cy="497.40" r="2.2" fill="#17becf" fill-opacity="0.5"/>
<circle cx="169.98" cy="500.70" r="2.2" fill="#17becf" fill-opacity="0.5"/>
<line x1="193.02" y1="501.70" x2="193.02" y2="504.20" stroke="#bcbd22" stroke-width="0.9" stroke-opacity="0.6"/>
<line x1="193.02" y1="512.80" x2="193.02" y2="513.80" stroke="#bcbd22" stroke-width="0.9" stroke-opacity="0.6"/>
<rect x="183.36" y="504.20" width="19.31" height="8.60" fill="#bcbd22" fill-opacity="0.5" stroke="#bcbd22" stroke-opacity="0.6" stroke-width="0.9"/>
<line x1="183.36" y1="509.00" x2="202.67" y2="509.00" stroke="#bcbd22" stroke-width="1.2" stroke-opacity="0.75"/>
<circle cx="191.92" cy="501.70" r="2.2" fill="#bcbd22" fill-opacity="0.5"/>
<circle cx="193.02" cy="505.00" r="2.2" fill="#bcbd22" fill-opacity="0.5"/>
<circle cx="194.02" cy="508.00" r="2.2" fill="#bcbd22" fill-opacity="0.5"/>
<circle cx="192.02" cy="510.00" r="2.2" fill="#bcbd22" fill-opacity="0.5"/>
<circle cx="193.52" cy="513.50" r="2.2" fill="#bcbd22" fill-opacity="0.5"/>
<circle cx="191.82" cy="519.90" r="2.2" fill="#bcbd22" fill-opacity="0.5"/>
<circle cx="192.82" cy="526.30" r="2.2" fill="#bcbd22" fill-opacity="0.5"/>
<line x1="154.40" y1="500.30" x2="207.50" y2="500.30" stroke="#f44848" stroke-width="1.3" stroke-dasharray="2.8,2.6"/>
<polyline points="168.88,467.60 168.88,465.40 193.02,465.40 193.02,467.60" fill="none" stroke="#666" stroke-width="0.9"/>
<text transform="translate(180.95 461.10)" font-size="10.0" fill="#1a1a1a" text-anchor="middle" font-weight="normal" dominant-baseline="central" stroke="#1a1a1a" stroke-width="0.25">0.00028</text>
<text transform="translate(140.30 496.90) rotate(-90) scale(0.95 1.0)" font-size="10.3" fill="#1a1a1a" text-anchor="middle" font-weight="normal" dominant-baseline="central" stroke="#1a1a1a" stroke-width="0.25">Score</text>
<rect x="219.70" y="452.60" width="53.20" height="85.40" fill="none" stroke="#b0b0b0" stroke-width="1"/>
<line x1="219.70" y1="452.10" x2="219.70" y2="538.50" stroke="#7a7a7a" stroke-width="1"/>
<line x1="219.20" y1="538.00" x2="273.40" y2="538.00" stroke="#7a7a7a" stroke-width="1"/>
<line x1="217.70" y1="469.60" x2="219.70" y2="469.60" stroke="#5a5a5a" stroke-width="0.8"/>
<text transform="translate(217.80 469.60) scale(1.0 0.92)" font-size="10.0" fill="#454545" text-anchor="end" font-weight="normal" dominant-baseline="central" stroke="#454545" stroke-width="0.12">9</text>
<line x1="217.70" y1="489.60" x2="219.70" y2="489.60" stroke="#5a5a5a" stroke-width="0.8"/>
<text transform="translate(217.80 489.60) scale(1.0 0.92)" font-size="10.0" fill="#454545" text-anchor="end" font-weight="normal" dominant-baseline="central" stroke="#454545" stroke-width="0.12">6</text>
<line x1="217.70" y1="509.40" x2="219.70" y2="509.40" stroke="#5a5a5a" stroke-width="0.8"/>
<text transform="translate(217.80 509.40) scale(1.0 0.92)" font-size="10.0" fill="#454545" text-anchor="end" font-weight="normal" dominant-baseline="central" stroke="#454545" stroke-width="0.12">3</text>
<line x1="217.70" y1="528.80" x2="219.70" y2="528.80" stroke="#5a5a5a" stroke-width="0.8"/>
<text transform="translate(217.80 528.80) scale(1.0 0.92)" font-size="10.0" fill="#454545" text-anchor="end" font-weight="normal" dominant-baseline="central" stroke="#454545" stroke-width="0.12">0</text>
<line x1="234.21" y1="538.00" x2="234.21" y2="540.00" stroke="#5a5a5a" stroke-width="0.8"/>
<text transform="translate(234.21 543.90) scale(1.0 0.92)" font-size="10.0" fill="#454545" text-anchor="middle" font-weight="normal" dominant-baseline="central" stroke="#454545" stroke-width="0.12">M</text>
<line x1="258.39" y1="538.00" x2="258.39" y2="540.00" stroke="#5a5a5a" stroke-width="0.8"/>
<text transform="translate(258.39 543.90) scale(1.0 0.92)" font-size="10.0" fill="#454545" text-anchor="middle" font-weight="normal" dominant-baseline="central" stroke="#454545" stroke-width="0.12">VB</text>
<line x1="234.21" y1="470.60" x2="234.21" y2="479.40" stroke="#17becf" stroke-width="0.9" stroke-opacity="0.6"/>
<line x1="234.21" y1="491.40" x2="234.21" y2="498.20" stroke="#17becf" stroke-width="0.9" stroke-opacity="0.6"/>
<rect x="224.54" y="479.40" width="19.35" height="12.00" fill="#17becf" fill-opacity="0.5" stroke="#17becf" stroke-opacity="0.6" stroke-width="0.9"/>
<line x1="224.54" y1="486.90" x2="243.88" y2="486.90" stroke="#17becf" stroke-width="1.2" stroke-opacity="0.75"/>
<circle cx="235.01" cy="470.60" r="2.2" fill="#17becf" fill-opacity="0.5"/>
<circle cx="233.01" cy="478.80" r="2.2" fill="#17becf" fill-opacity="0.5"/>
<circle cx="236.01" cy="481.00" r="2.2" fill="#17becf" fill-opacity="0.5"/>
<circle cx="234.01" cy="484.90" r="2.2" fill="#17becf" fill-opacity="0.5"/>
<circle cx="235.51" cy="488.00" r="2.2" fill="#17becf" fill-opacity="0.5"/>
<circle cx="233.51" cy="491.00" r="2.2" fill="#17becf" fill-opacity="0.5"/>
<circle cx="233.01" cy="498.20" r="2.2" fill="#17becf" fill-opacity="0.5"/>
<line x1="258.39" y1="482.90" x2="258.39" y2="496.80" stroke="#ad6eff" stroke-width="0.9" stroke-opacity="0.6"/>
<line x1="258.39" y1="508.40" x2="258.39" y2="519.60" stroke="#ad6eff" stroke-width="0.9" stroke-opacity="0.6"/>
<rect x="248.72" y="496.80" width="19.35" height="11.60" fill="#ad6eff" fill-opacity="0.5" stroke="#ad6eff" stroke-opacity="0.6" stroke-width="0.9"/>
<line x1="248.72" y1="500.20" x2="268.06" y2="500.20" stroke="#ad6eff" stroke-width="1.2" stroke-opacity="0.75"/>
<circle cx="257.09" cy="473.70" r="2.2" fill="#ad6eff" fill-opacity="0.5"/>
<circle cx="258.49" cy="482.90" r="2.2" fill="#ad6eff" fill-opacity="0.5"/>
<circle cx="257.99" cy="486.00" r="2.2" fill="#ad6eff" fill-opacity="0.5"/>
<circle cx="259.49" cy="488.50" r="2.2" fill="#ad6eff" fill-opacity="0.5"/>
<circle cx="257.49" cy="491.00" r="2.2" fill="#ad6eff" fill-opacity="0.5"/>
<circle cx="258.99" cy="494.00" r="2.2" fill="#ad6eff" fill-opacity="0.5"/>
<circle cx="257.99" cy="497.00" r="2.2" fill="#ad6eff" fill-opacity="0.5"/>
<circle cx="259.99" cy="499.00" r="2.2" fill="#ad6eff" fill-opacity="0.5"/>
<circle cx="257.49" cy="501.00" r="2.2" fill="#ad6eff" fill-opacity="0.5"/>
<circle cx="258.99" cy="504.00" r="2.2" fill="#ad6eff" fill-opacity="0.5"/>
<circle cx="257.99" cy="507.00" r="2.2" fill="#ad6eff" fill-opacity="0.5"/>
<circle cx="259.99" cy="510.00" r="2.2" fill="#ad6eff" fill-opacity="0.5"/>
<circle cx="256.99" cy="512.50" r="2.2" fill="#ad6eff" fill-opacity="0.5"/>
<circle cx="258.49" cy="515.00" r="2.2" fill="#ad6eff" fill-opacity="0.5"/>
<circle cx="255.99" cy="518.00" r="2.2" fill="#ad6eff" fill-opacity="0.5"/>
<circle cx="259.49" cy="519.60" r="2.2" fill="#ad6eff" fill-opacity="0.5"/>
<circle cx="258.49" cy="526.40" r="2.2" fill="#ad6eff" fill-opacity="0.5"/>
<line x1="219.70" y1="492.50" x2="272.90" y2="492.50" stroke="#f44848" stroke-width="1.3" stroke-dasharray="2.8,2.6"/>
<polyline points="234.21,467.60 234.21,465.40 258.39,465.40 258.39,467.60" fill="none" stroke="#666" stroke-width="0.9"/>
<text transform="translate(246.30 460.90)" font-size="10.0" fill="#1a1a1a" text-anchor="middle" font-weight="normal" dominant-baseline="central" stroke="#1a1a1a" stroke-width="0.25">0.00044</text>
<rect x="285.70" y="452.60" width="53.20" height="85.40" fill="none" stroke="#b0b0b0" stroke-width="1"/>
<line x1="285.70" y1="452.10" x2="285.70" y2="538.50" stroke="#7a7a7a" stroke-width="1"/>
<line x1="285.20" y1="538.00" x2="339.40" y2="538.00" stroke="#7a7a7a" stroke-width="1"/>
<line x1="283.70" y1="470.20" x2="285.70" y2="470.20" stroke="#5a5a5a" stroke-width="0.8"/>
<text transform="translate(283.80 470.20) scale(1.0 0.92)" font-size="10.0" fill="#454545" text-anchor="end" font-weight="normal" dominant-baseline="central" stroke="#454545" stroke-width="0.12">9</text>
<line x1="283.70" y1="490.00" x2="285.70" y2="490.00" stroke="#5a5a5a" stroke-width="0.8"/>
<text transform="translate(283.80 490.00) scale(1.0 0.92)" font-size="10.0" fill="#454545" text-anchor="end" font-weight="normal" dominant-baseline="central" stroke="#454545" stroke-width="0.12">6</text>
<line x1="283.70" y1="509.40" x2="285.70" y2="509.40" stroke="#5a5a5a" stroke-width="0.8"/>
<text transform="translate(283.80 509.40) scale(1.0 0.92)" font-size="10.0" fill="#454545" text-anchor="end" font-weight="normal" dominant-baseline="central" stroke="#454545" stroke-width="0.12">3</text>
<line x1="283.70" y1="528.80" x2="285.70" y2="528.80" stroke="#5a5a5a" stroke-width="0.8"/>
<text transform="translate(283.80 528.80) scale(1.0 0.92)" font-size="10.0" fill="#454545" text-anchor="end" font-weight="normal" dominant-baseline="central" stroke="#454545" stroke-width="0.12">0</text>
<line x1="300.21" y1="538.00" x2="300.21" y2="540.00" stroke="#5a5a5a" stroke-width="0.8"/>
<text transform="translate(300.21 543.90) scale(1.0 0.92)" font-size="10.0" fill="#454545" text-anchor="middle" font-weight="normal" dominant-baseline="central" stroke="#454545" stroke-width="0.12">M</text>
<line x1="324.39" y1="538.00" x2="324.39" y2="540.00" stroke="#5a5a5a" stroke-width="0.8"/>
<text transform="translate(324.39 543.90) scale(1.0 0.92)" font-size="10.0" fill="#454545" text-anchor="middle" font-weight="normal" dominant-baseline="central" stroke="#454545" stroke-width="0.12">B</text>
<line x1="300.21" y1="483.90" x2="300.21" y2="486.30" stroke="#17becf" stroke-width="0.9" stroke-opacity="0.6"/>
<line x1="300.21" y1="490.40" x2="300.21" y2="492.70" stroke="#17becf" stroke-width="0.9" stroke-opacity="0.6"/>
<rect x="290.54" y="486.30" width="19.35" height="4.10" fill="#17becf" fill-opacity="0.5" stroke="#17becf" stroke-opacity="0.6" stroke-width="0.9"/>
<line x1="290.54" y1="488.00" x2="309.88" y2="488.00" stroke="#17becf" stroke-width="1.2" stroke-opacity="0.75"/>
<circle cx="298.01" cy="470.60" r="2.2" fill="#17becf" fill-opacity="0.5"/>
<circle cx="300.01" cy="483.90" r="2.2" fill="#17becf" fill-opacity="0.5"/>
<circle cx="301.01" cy="487.00" r="2.2" fill="#17becf" fill-opacity="0.5"/>
<circle cx="299.01" cy="490.00" r="2.2" fill="#17becf" fill-opacity="0.5"/>
<circle cx="298.01" cy="498.60" r="2.2" fill="#17becf" fill-opacity="0.5"/>
<line x1="324.39" y1="472.20" x2="324.39" y2="489.60" stroke="#940a12" stroke-width="0.9" stroke-opacity="0.6"/>
<line x1="324.39" y1="509.40" x2="324.39" y2="526.40" stroke="#940a12" stroke-width="0.9" stroke-opacity="0.6"/>
<rect x="314.72" y="489.60" width="19.35" height="19.80" fill="#940a12" fill-opacity="0.5" stroke="#940a12" stroke-opacity="0.6" stroke-width="0.9"/>
<line x1="314.72" y1="500.20" x2="334.06" y2="500.20" stroke="#940a12" stroke-width="1.2" stroke-opacity="0.75"/>
<circle cx="323.49" cy="472.20" r="2.2" fill="#940a12" fill-opacity="0.5"/>
<circle cx="322.99" cy="486.00" r="2.2" fill="#940a12" fill-opacity="0.5"/>
<circle cx="324.99" cy="487.50" r="2.2" fill="#940a12" fill-opacity="0.5"/>
<circle cx="323.99" cy="490.00" r="2.2" fill="#940a12" fill-opacity="0.5"/>
<circle cx="322.99" cy="493.00" r="2.2" fill="#940a12" fill-opacity="0.5"/>
<circle cx="324.99" cy="496.00" r="2.2" fill="#940a12" fill-opacity="0.5"/>
<circle cx="323.99" cy="499.00" r="2.2" fill="#940a12" fill-opacity="0.5"/>
<circle cx="322.49" cy="502.00" r="2.2" fill="#940a12" fill-opacity="0.5"/>
<circle cx="324.99" cy="505.00" r="2.2" fill="#940a12" fill-opacity="0.5"/>
<circle cx="323.49" cy="508.00" r="2.2" fill="#940a12" fill-opacity="0.5"/>
<circle cx="324.49" cy="511.00" r="2.2" fill="#940a12" fill-opacity="0.5"/>
<circle cx="322.99" cy="514.00" r="2.2" fill="#940a12" fill-opacity="0.5"/>
<circle cx="321.99" cy="517.20" r="2.2" fill="#940a12" fill-opacity="0.5"/>
<circle cx="323.49" cy="520.00" r="2.2" fill="#940a12" fill-opacity="0.5"/>
<circle cx="323.99" cy="526.40" r="2.2" fill="#940a12" fill-opacity="0.5"/>
<line x1="285.70" y1="492.50" x2="338.90" y2="492.50" stroke="#f44848" stroke-width="1.3" stroke-dasharray="2.8,2.6"/>
<polyline points="300.21,467.60 300.21,465.40 324.39,465.40 324.39,467.60" fill="none" stroke="#666" stroke-width="0.9"/>
<text transform="translate(312.30 460.90)" font-size="10.0" fill="#1a1a1a" text-anchor="middle" font-weight="normal" dominant-baseline="central" stroke="#1a1a1a" stroke-width="0.25">0.005</text>
<rect x="368.00" y="423.20" width="317.00" height="19.50" fill="#e5e5e5"/>
<text transform="translate(524.90 433.55) scale(0.95 1.0)" font-size="12.1" fill="#1a1a1a" text-anchor="middle" font-weight="normal" dominant-baseline="central" stroke="#1a1a1a" stroke-width="0.25">10-transcript</text>
<rect x="371.00" y="452.50" width="104.40" height="87.90" fill="none" stroke="#b0b0b0" stroke-width="1"/>
<line x1="371.00" y1="452.00" x2="371.00" y2="540.90" stroke="#7a7a7a" stroke-width="1"/>
<line x1="370.50" y1="540.40" x2="475.90" y2="540.40" stroke="#7a7a7a" stroke-width="1"/>
<line x1="371.00" y1="540.40" x2="475.40" y2="452.50" stroke="#444" stroke-width="0.8" stroke-dasharray="1.6,2.2"/>
<clipPath id="c8"><rect x="371.00" y="452.50" width="104.40" height="87.90"/></clipPath><g clip-path="url(#c8)">
<polyline points="371.00,540.40 371.00,501.33 391.88,501.33 391.88,491.57 412.76,491.57 412.76,462.27 433.64,462.27 433.64,452.50 475.40,452.50" fill="none" stroke="#222222" stroke-width="1.3"/>
<polyline points="371.00,540.40 374.26,540.40 374.26,511.10 377.52,511.10 377.52,501.33 380.79,501.33 380.79,491.57 393.84,491.57 393.84,481.80 397.10,481.80 397.10,472.03 400.36,472.03 400.36,462.27 413.41,462.27 413.41,452.50 475.40,452.50" fill="none" stroke="#b37dff" stroke-width="1.3"/>
<polyline points="371.00,540.40 375.75,540.40 375.75,501.33 380.49,501.33 380.49,491.57 394.73,491.57 394.73,472.03 399.47,472.03 399.47,462.27 404.22,462.27 404.22,452.50 475.40,452.50" fill="none" stroke="#e0303a" stroke-width="1.3"/>
</g>
<line x1="369.00" y1="452.50" x2="371.00" y2="452.50" stroke="#5a5a5a" stroke-width="0.8"/>
<text transform="translate(369.00 452.50) scale(1.0 0.92)" font-size="10.0" fill="#454545" text-anchor="end" font-weight="normal" dominant-baseline="central" stroke="#454545" stroke-width="0.12">1</text>
<line x1="369.00" y1="496.45" x2="371.00" y2="496.45" stroke="#5a5a5a" stroke-width="0.8"/>
<text transform="translate(369.00 496.45) scale(1.0 0.92)" font-size="10.0" fill="#454545" text-anchor="end" font-weight="normal" dominant-baseline="central" stroke="#454545" stroke-width="0.12">0.5</text>
<line x1="371.00" y1="540.40" x2="371.00" y2="542.40" stroke="#5a5a5a" stroke-width="0.8"/>
<text transform="translate(371.00 546.20) scale(1.0 0.92)" font-size="10.0" fill="#454545" text-anchor="middle" font-weight="normal" dominant-baseline="central" stroke="#454545" stroke-width="0.12">0</text>
<line x1="423.20" y1="540.40" x2="423.20" y2="542.40" stroke="#5a5a5a" stroke-width="0.8"/>
<text transform="translate(423.20 546.20) scale(1.0 0.92)" font-size="10.0" fill="#454545" text-anchor="middle" font-weight="normal" dominant-baseline="central" stroke="#454545" stroke-width="0.12">0.5</text>
<line x1="475.40" y1="540.40" x2="475.40" y2="542.40" stroke="#5a5a5a" stroke-width="0.8"/>
<text transform="translate(475.40 546.20) scale(1.0 0.92)" font-size="10.0" fill="#454545" text-anchor="middle" font-weight="normal" dominant-baseline="central" stroke="#454545" stroke-width="0.12">1</text>
<text transform="translate(349.10 496.50) rotate(-90)" font-size="9.5" fill="#1a1a1a" text-anchor="middle" font-weight="normal" dominant-baseline="central" stroke="#1a1a1a" stroke-width="0.25">Sensitivity</text>
<text transform="translate(423.30 555.70) scale(0.96 1.0)" font-size="9.5" fill="#1a1a1a" text-anchor="middle" font-weight="normal" dominant-baseline="central" stroke="#1a1a1a" stroke-width="0.25">1–Specificity</text>
<text transform="translate(472.00 503.40) scale(1.03 1.0)" font-size="10.2" fill="#000" text-anchor="end" font-weight="bold" dominant-baseline="central">M-V: .78</text>
<text transform="translate(472.00 517.40) scale(1.03 1.0)" font-size="10.2" fill="#c00000" text-anchor="end" font-weight="bold" dominant-baseline="central">M-B: .85</text>
<text transform="translate(472.00 531.40) scale(1.03 1.0)" font-size="10.2" fill="#a862ff" text-anchor="end" font-weight="bold" dominant-baseline="central">M-VB: .86</text>
<rect x="503.50" y="453.20" width="48.00" height="85.00" fill="none" stroke="#b0b0b0" stroke-width="1"/>
<line x1="503.50" y1="452.70" x2="503.50" y2="538.70" stroke="#7a7a7a" stroke-width="1"/>
<line x1="503.00" y1="538.20" x2="552.00" y2="538.20" stroke="#7a7a7a" stroke-width="1"/>
<line x1="501.50" y1="479.20" x2="503.50" y2="479.20" stroke="#5a5a5a" stroke-width="0.8"/>
<text transform="translate(501.60 479.20) scale(1.0 0.92)" font-size="10.0" fill="#454545" text-anchor="end" font-weight="normal" dominant-baseline="central" stroke="#454545" stroke-width="0.12">18</text>
<line x1="501.50" y1="491.70" x2="503.50" y2="491.70" stroke="#5a5a5a" stroke-width="0.8"/>
<text transform="translate(501.60 491.70) scale(1.0 0.92)" font-size="10.0" fill="#454545" text-anchor="end" font-weight="normal" dominant-baseline="central" stroke="#454545" stroke-width="0.12">15</text>
<line x1="501.50" y1="504.20" x2="503.50" y2="504.20" stroke="#5a5a5a" stroke-width="0.8"/>
<text transform="translate(501.60 504.20) scale(1.0 0.92)" font-size="10.0" fill="#454545" text-anchor="end" font-weight="normal" dominant-baseline="central" stroke="#454545" stroke-width="0.12">12</text>
<line x1="501.50" y1="516.50" x2="503.50" y2="516.50" stroke="#5a5a5a" stroke-width="0.8"/>
<text transform="translate(501.60 516.50) scale(1.0 0.92)" font-size="10.0" fill="#454545" text-anchor="end" font-weight="normal" dominant-baseline="central" stroke="#454545" stroke-width="0.12">9</text>
<line x1="501.50" y1="528.60" x2="503.50" y2="528.60" stroke="#5a5a5a" stroke-width="0.8"/>
<text transform="translate(501.60 528.60) scale(1.0 0.92)" font-size="10.0" fill="#454545" text-anchor="end" font-weight="normal" dominant-baseline="central" stroke="#454545" stroke-width="0.12">6</text>
<line x1="516.59" y1="538.20" x2="516.59" y2="540.20" stroke="#5a5a5a" stroke-width="0.8"/>
<text transform="translate(516.59 544.10) scale(1.0 0.92)" font-size="10.0" fill="#454545" text-anchor="middle" font-weight="normal" dominant-baseline="central" stroke="#454545" stroke-width="0.12">M</text>
<line x1="538.41" y1="538.20" x2="538.41" y2="540.20" stroke="#5a5a5a" stroke-width="0.8"/>
<text transform="translate(538.41 544.10) scale(1.0 0.92)" font-size="10.0" fill="#454545" text-anchor="middle" font-weight="normal" dominant-baseline="central" stroke="#454545" stroke-width="0.12">V</text>
<line x1="516.59" y1="471.30" x2="516.59" y2="489.20" stroke="#17becf" stroke-width="0.9" stroke-opacity="0.6"/>
<line x1="516.59" y1="504.90" x2="516.59" y2="512.60" stroke="#17becf" stroke-width="0.9" stroke-opacity="0.6"/>
<rect x="507.86" y="489.20" width="17.45" height="15.70" fill="#17becf" fill-opacity="0.5" stroke="#17becf" stroke-opacity="0.6" stroke-width="0.9"/>
<line x1="507.86" y1="498.20" x2="525.32" y2="498.20" stroke="#17becf" stroke-width="1.2" stroke-opacity="0.75"/>
<circle cx="515.99" cy="471.30" r="2.2" fill="#17becf" fill-opacity="0.5"/>
<circle cx="517.99" cy="486.80" r="2.2" fill="#17becf" fill-opacity="0.5"/>
<circle cx="515.99" cy="490.00" r="2.2" fill="#17becf" fill-opacity="0.5"/>
<circle cx="517.99" cy="495.30" r="2.2" fill="#17becf" fill-opacity="0.5"/>
<circle cx="515.99" cy="498.00" r="2.2" fill="#17becf" fill-opacity="0.5"/>
<circle cx="516.99" cy="500.70" r="2.2" fill="#17becf" fill-opacity="0.5"/>
<circle cx="515.49" cy="505.00" r="2.2" fill="#17becf" fill-opacity="0.5"/>
<circle cx="514.39" cy="512.60" r="2.2" fill="#17becf" fill-opacity="0.5"/>
<line x1="538.41" y1="495.90" x2="538.41" y2="501.10" stroke="#bcbd22" stroke-width="0.9" stroke-opacity="0.6"/>
<line x1="538.41" y1="516.50" x2="538.41" y2="526.70" stroke="#bcbd22" stroke-width="0.9" stroke-opacity="0.6"/>
<rect x="529.68" y="501.10" width="17.45" height="15.40" fill="#bcbd22" fill-opacity="0.5" stroke="#bcbd22" stroke-opacity="0.6" stroke-width="0.9"/>
<line x1="529.68" y1="510.30" x2="547.14" y2="510.30" stroke="#bcbd22" stroke-width="1.2" stroke-opacity="0.75"/>
<circle cx="536.21" cy="495.90" r="2.2" fill="#bcbd22" fill-opacity="0.5"/>
<circle cx="538.51" cy="497.00" r="2.2" fill="#bcbd22" fill-opacity="0.5"/>
<circle cx="537.01" cy="500.00" r="2.2" fill="#bcbd22" fill-opacity="0.5"/>
<circle cx="538.01" cy="503.00" r="2.2" fill="#bcbd22" fill-opacity="0.5"/>
<circle cx="539.01" cy="506.00" r="2.2" fill="#bcbd22" fill-opacity="0.5"/>
<circle cx="537.01" cy="509.00" r="2.2" fill="#bcbd22" fill-opacity="0.5"/>
<circle cx="538.51" cy="512.00" r="2.2" fill="#bcbd22" fill-opacity="0.5"/>
<circle cx="537.01" cy="515.00" r="2.2" fill="#bcbd22" fill-opacity="0.5"/>
<circle cx="539.01" cy="521.50" r="2.2" fill="#bcbd22" fill-opacity="0.5"/>
<circle cx="537.51" cy="526.70" r="2.2" fill="#bcbd22" fill-opacity="0.5"/>
<line x1="503.50" y1="504.90" x2="551.50" y2="504.90" stroke="#f44848" stroke-width="1.3" stroke-dasharray="2.8,2.6"/>
<polyline points="516.59,468.60 516.59,466.40 538.41,466.40 538.41,468.60" fill="none" stroke="#666" stroke-width="0.9"/>
<text transform="translate(527.50 461.70)" font-size="10.0" fill="#1a1a1a" text-anchor="middle" font-weight="normal" dominant-baseline="central" stroke="#1a1a1a" stroke-width="0.25">0.045</text>
<text transform="translate(483.40 497.20) rotate(-90) scale(0.95 1.0)" font-size="10.3" fill="#1a1a1a" text-anchor="middle" font-weight="normal" dominant-baseline="central" stroke="#1a1a1a" stroke-width="0.25">Score</text>
<rect x="568.70" y="453.80" width="47.30" height="84.80" fill="none" stroke="#b0b0b0" stroke-width="1"/>
<line x1="568.70" y1="453.30" x2="568.70" y2="539.10" stroke="#7a7a7a" stroke-width="1"/>
<line x1="568.20" y1="538.60" x2="616.50" y2="538.60" stroke="#7a7a7a" stroke-width="1"/>
<line x1="566.70" y1="470.60" x2="568.70" y2="470.60" stroke="#5a5a5a" stroke-width="0.8"/>
<text transform="translate(566.80 470.60) scale(1.0 0.92)" font-size="10.0" fill="#454545" text-anchor="end" font-weight="normal" dominant-baseline="central" stroke="#454545" stroke-width="0.12">25</text>
<line x1="566.70" y1="483.80" x2="568.70" y2="483.80" stroke="#5a5a5a" stroke-width="0.8"/>
<text transform="translate(566.80 483.80) scale(1.0 0.92)" font-size="10.0" fill="#454545" text-anchor="end" font-weight="normal" dominant-baseline="central" stroke="#454545" stroke-width="0.12">20</text>
<line x1="566.70" y1="496.60" x2="568.70" y2="496.60" stroke="#5a5a5a" stroke-width="0.8"/>
<text transform="translate(566.80 496.60) scale(1.0 0.92)" font-size="10.0" fill="#454545" text-anchor="end" font-weight="normal" dominant-baseline="central" stroke="#454545" stroke-width="0.12">15</text>
<line x1="566.70" y1="509.40" x2="568.70" y2="509.40" stroke="#5a5a5a" stroke-width="0.8"/>
<text transform="translate(566.80 509.40) scale(1.0 0.92)" font-size="10.0" fill="#454545" text-anchor="end" font-weight="normal" dominant-baseline="central" stroke="#454545" stroke-width="0.12">10</text>
<line x1="566.70" y1="522.20" x2="568.70" y2="522.20" stroke="#5a5a5a" stroke-width="0.8"/>
<text transform="translate(566.80 522.20) scale(1.0 0.92)" font-size="10.0" fill="#454545" text-anchor="end" font-weight="normal" dominant-baseline="central" stroke="#454545" stroke-width="0.12">5</text>
<line x1="566.70" y1="535.00" x2="568.70" y2="535.00" stroke="#5a5a5a" stroke-width="0.8"/>
<text transform="translate(566.80 535.00) scale(1.0 0.92)" font-size="10.0" fill="#454545" text-anchor="end" font-weight="normal" dominant-baseline="central" stroke="#454545" stroke-width="0.12">0</text>
<line x1="581.60" y1="538.60" x2="581.60" y2="540.60" stroke="#5a5a5a" stroke-width="0.8"/>
<text transform="translate(581.60 544.50) scale(1.0 0.92)" font-size="10.0" fill="#454545" text-anchor="middle" font-weight="normal" dominant-baseline="central" stroke="#454545" stroke-width="0.12">M</text>
<line x1="603.10" y1="538.60" x2="603.10" y2="540.60" stroke="#5a5a5a" stroke-width="0.8"/>
<text transform="translate(603.10 544.50) scale(1.0 0.92)" font-size="10.0" fill="#454545" text-anchor="middle" font-weight="normal" dominant-baseline="central" stroke="#454545" stroke-width="0.12">VB</text>
<line x1="581.60" y1="483.40" x2="581.60" y2="487.30" stroke="#17becf" stroke-width="0.9" stroke-opacity="0.6"/>
<line x1="581.60" y1="496.20" x2="581.60" y2="501.10" stroke="#17becf" stroke-width="0.9" stroke-opacity="0.6"/>
<rect x="573.00" y="487.30" width="17.20" height="8.90" fill="#17becf" fill-opacity="0.5" stroke="#17becf" stroke-opacity="0.6" stroke-width="0.9"/>
<line x1="573.00" y1="492.30" x2="590.20" y2="492.30" stroke="#17becf" stroke-width="1.2" stroke-opacity="0.75"/>
<circle cx="581.90" cy="473.00" r="2.2" fill="#17becf" fill-opacity="0.5"/>
<circle cx="583.00" cy="483.40" r="2.2" fill="#17becf" fill-opacity="0.5"/>
<circle cx="581.00" cy="486.00" r="2.2" fill="#17becf" fill-opacity="0.5"/>
<circle cx="582.00" cy="489.00" r="2.2" fill="#17becf" fill-opacity="0.5"/>
<circle cx="580.50" cy="492.00" r="2.2" fill="#17becf" fill-opacity="0.5"/>
<circle cx="582.50" cy="495.00" r="2.2" fill="#17becf" fill-opacity="0.5"/>
<circle cx="581.00" cy="497.00" r="2.2" fill="#17becf" fill-opacity="0.5"/>
<circle cx="581.50" cy="501.10" r="2.2" fill="#17becf" fill-opacity="0.5"/>
<line x1="603.10" y1="489.70" x2="603.10" y2="496.60" stroke="#ad6eff" stroke-width="0.9" stroke-opacity="0.6"/>
<line x1="603.10" y1="511.00" x2="603.10" y2="526.80" stroke="#ad6eff" stroke-width="0.9" stroke-opacity="0.6"/>
<rect x="594.50" y="496.60" width="17.20" height="14.40" fill="#ad6eff" fill-opacity="0.5" stroke="#ad6eff" stroke-opacity="0.6" stroke-width="0.9"/>
<line x1="594.50" y1="504.50" x2="611.70" y2="504.50" stroke="#ad6eff" stroke-width="1.2" stroke-opacity="0.75"/>
<circle cx="603.60" cy="471.20" r="2.2" fill="#ad6eff" fill-opacity="0.5"/>
<circle cx="605.00" cy="489.70" r="2.2" fill="#ad6eff" fill-opacity="0.5"/>
<circle cx="603.00" cy="492.00" r="2.2" fill="#ad6eff" fill-opacity="0.5"/>
<circle cx="601.50" cy="495.00" r="2.2" fill="#ad6eff" fill-opacity="0.5"/>
<circle cx="604.00" cy="498.00" r="2.2" fill="#ad6eff" fill-opacity="0.5"/>
<circle cx="602.00" cy="501.00" r="2.2" fill="#ad6eff" fill-opacity="0.5"/>
<circle cx="604.50" cy="504.00" r="2.2" fill="#ad6eff" fill-opacity="0.5"/>
<circle cx="603.00" cy="507.00" r="2.2" fill="#ad6eff" fill-opacity="0.5"/>
<circle cx="601.50" cy="510.00" r="2.2" fill="#ad6eff" fill-opacity="0.5"/>
<circle cx="604.00" cy="513.00" r="2.2" fill="#ad6eff" fill-opacity="0.5"/>
<circle cx="602.50" cy="516.00" r="2.2" fill="#ad6eff" fill-opacity="0.5"/>
<circle cx="604.00" cy="515.90" r="2.2" fill="#ad6eff" fill-opacity="0.5"/>
<circle cx="602.00" cy="518.50" r="2.2" fill="#ad6eff" fill-opacity="0.5"/>
<circle cx="600.50" cy="521.20" r="2.2" fill="#ad6eff" fill-opacity="0.5"/>
<circle cx="602.50" cy="526.80" r="2.2" fill="#ad6eff" fill-opacity="0.5"/>
<line x1="568.70" y1="496.80" x2="616.00" y2="496.80" stroke="#f44848" stroke-width="1.3" stroke-dasharray="2.8,2.6"/>
<polyline points="581.60,468.80 581.60,466.60 603.10,466.60 603.10,468.80" fill="none" stroke="#666" stroke-width="0.9"/>
<text transform="translate(592.35 461.60)" font-size="10.0" fill="#1a1a1a" text-anchor="middle" font-weight="normal" dominant-baseline="central" stroke="#1a1a1a" stroke-width="0.25">0.0019</text>
<rect x="633.80" y="453.80" width="47.30" height="84.80" fill="none" stroke="#b0b0b0" stroke-width="1"/>
<line x1="633.80" y1="453.30" x2="633.80" y2="539.10" stroke="#7a7a7a" stroke-width="1"/>
<line x1="633.30" y1="538.60" x2="681.60" y2="538.60" stroke="#7a7a7a" stroke-width="1"/>
<line x1="631.80" y1="472.00" x2="633.80" y2="472.00" stroke="#5a5a5a" stroke-width="0.8"/>
<text transform="translate(631.90 472.00) scale(1.0 0.92)" font-size="10.0" fill="#454545" text-anchor="end" font-weight="normal" dominant-baseline="central" stroke="#454545" stroke-width="0.12">25</text>
<line x1="631.80" y1="484.80" x2="633.80" y2="484.80" stroke="#5a5a5a" stroke-width="0.8"/>
<text transform="translate(631.90 484.80) scale(1.0 0.92)" font-size="10.0" fill="#454545" text-anchor="end" font-weight="normal" dominant-baseline="central" stroke="#454545" stroke-width="0.12">20</text>
<line x1="631.80" y1="498.20" x2="633.80" y2="498.20" stroke="#5a5a5a" stroke-width="0.8"/>
<text transform="translate(631.90 498.20) scale(1.0 0.92)" font-size="10.0" fill="#454545" text-anchor="end" font-weight="normal" dominant-baseline="central" stroke="#454545" stroke-width="0.12">15</text>
<line x1="631.80" y1="511.00" x2="633.80" y2="511.00" stroke="#5a5a5a" stroke-width="0.8"/>
<text transform="translate(631.90 511.00) scale(1.0 0.92)" font-size="10.0" fill="#454545" text-anchor="end" font-weight="normal" dominant-baseline="central" stroke="#454545" stroke-width="0.12">10</text>
<line x1="631.80" y1="524.20" x2="633.80" y2="524.20" stroke="#5a5a5a" stroke-width="0.8"/>
<text transform="translate(631.90 524.20) scale(1.0 0.92)" font-size="10.0" fill="#454545" text-anchor="end" font-weight="normal" dominant-baseline="central" stroke="#454545" stroke-width="0.12">5</text>
<line x1="631.80" y1="537.60" x2="633.80" y2="537.60" stroke="#5a5a5a" stroke-width="0.8"/>
<text transform="translate(631.90 537.60) scale(1.0 0.92)" font-size="10.0" fill="#454545" text-anchor="end" font-weight="normal" dominant-baseline="central" stroke="#454545" stroke-width="0.12">0</text>
<line x1="646.70" y1="538.60" x2="646.70" y2="540.60" stroke="#5a5a5a" stroke-width="0.8"/>
<text transform="translate(646.70 544.50) scale(1.0 0.92)" font-size="10.0" fill="#454545" text-anchor="middle" font-weight="normal" dominant-baseline="central" stroke="#454545" stroke-width="0.12">M</text>
<line x1="668.20" y1="538.60" x2="668.20" y2="540.60" stroke="#5a5a5a" stroke-width="0.8"/>
<text transform="translate(668.20 544.50) scale(1.0 0.92)" font-size="10.0" fill="#454545" text-anchor="middle" font-weight="normal" dominant-baseline="central" stroke="#454545" stroke-width="0.12">B</text>
<line x1="646.70" y1="485.00" x2="646.70" y2="488.70" stroke="#17becf" stroke-width="0.9" stroke-opacity="0.6"/>
<line x1="646.70" y1="498.20" x2="646.70" y2="501.70" stroke="#17becf" stroke-width="0.9" stroke-opacity="0.6"/>
<rect x="638.10" y="488.70" width="17.20" height="9.50" fill="#17becf" fill-opacity="0.5" stroke="#17becf" stroke-opacity="0.6" stroke-width="0.9"/>
<line x1="638.10" y1="493.30" x2="655.30" y2="493.30" stroke="#17becf" stroke-width="1.2" stroke-opacity="0.75"/>
<circle cx="645.20" cy="473.00" r="2.2" fill="#17becf" fill-opacity="0.5"/>
<circle cx="647.00" cy="485.00" r="2.2" fill="#17becf" fill-opacity="0.5"/>
<circle cx="646.00" cy="488.00" r="2.2" fill="#17becf" fill-opacity="0.5"/>
<circle cx="647.50" cy="491.00" r="2.2" fill="#17becf" fill-opacity="0.5"/>
<circle cx="645.50" cy="494.00" r="2.2" fill="#17becf" fill-opacity="0.5"/>
<circle cx="647.00" cy="497.00" r="2.2" fill="#17becf" fill-opacity="0.5"/>
<circle cx="646.00" cy="501.70" r="2.2" fill="#17becf" fill-opacity="0.5"/>
<line x1="668.20" y1="471.20" x2="668.20" y2="498.20" stroke="#940a12" stroke-width="0.9" stroke-opacity="0.6"/>
<line x1="668.20" y1="517.50" x2="668.20" y2="526.80" stroke="#940a12" stroke-width="0.9" stroke-opacity="0.6"/>
<rect x="659.60" y="498.20" width="17.20" height="19.30" fill="#940a12" fill-opacity="0.5" stroke="#940a12" stroke-opacity="0.6" stroke-width="0.9"/>
<line x1="659.60" y1="508.00" x2="676.80" y2="508.00" stroke="#940a12" stroke-width="1.2" stroke-opacity="0.75"/>
<circle cx="666.90" cy="471.20" r="2.2" fill="#940a12" fill-opacity="0.5"/>
<circle cx="668.00" cy="492.30" r="2.2" fill="#940a12" fill-opacity="0.5"/>
<circle cx="670.00" cy="495.00" r="2.2" fill="#940a12" fill-opacity="0.5"/>
<circle cx="667.00" cy="498.00" r="2.2" fill="#940a12" fill-opacity="0.5"/>
<circle cx="669.00" cy="501.00" r="2.2" fill="#940a12" fill-opacity="0.5"/>
<circle cx="668.00" cy="504.00" r="2.2" fill="#940a12" fill-opacity="0.5"/>
<circle cx="666.00" cy="507.00" r="2.2" fill="#940a12" fill-opacity="0.5"/>
<circle cx="670.00" cy="510.00" r="2.2" fill="#940a12" fill-opacity="0.5"/>
<circle cx="668.00" cy="513.00" r="2.2" fill="#940a12" fill-opacity="0.5"/>
<circle cx="667.00" cy="516.00" r="2.2" fill="#940a12" fill-opacity="0.5"/>
<circle cx="669.50" cy="519.00" r="2.2" fill="#940a12" fill-opacity="0.5"/>
<circle cx="668.00" cy="521.80" r="2.2" fill="#940a12" fill-opacity="0.5"/>
<circle cx="666.50" cy="526.80" r="2.2" fill="#940a12" fill-opacity="0.5"/>
<line x1="633.80" y1="501.70" x2="681.10" y2="501.70" stroke="#f44848" stroke-width="1.3" stroke-dasharray="2.8,2.6"/>
<polyline points="646.70,468.80 646.70,466.60 668.20,466.60 668.20,468.80" fill="none" stroke="#666" stroke-width="0.9"/>
<text transform="translate(657.45 461.60)" font-size="10.0" fill="#1a1a1a" text-anchor="middle" font-weight="normal" dominant-baseline="central" stroke="#1a1a1a" stroke-width="0.25">0.0025</text>
</svg>
</body></html>
